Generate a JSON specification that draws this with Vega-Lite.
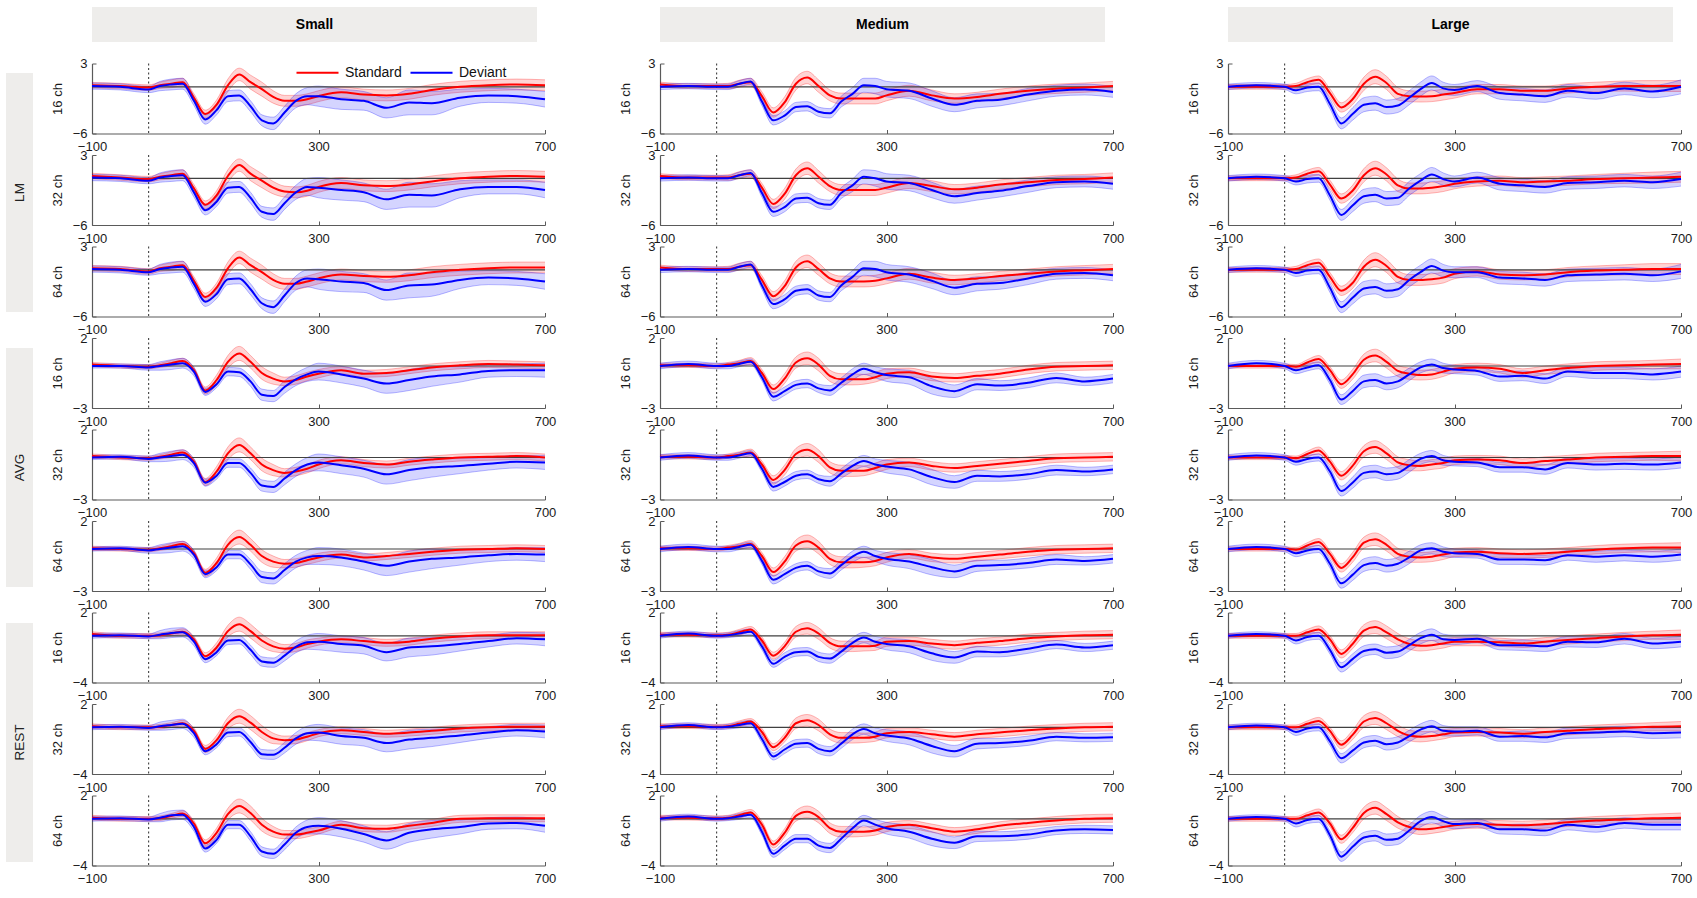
{
  "$schema": "https://vega.github.io/schema/vega-lite/v6.json",
  "padding": {"left": 6, "top": 7, "right": 4, "bottom": 4},
  "background": "white",
  "config": {
    "font": "Liberation Sans",
    "view": {"stroke": null},
    "axis": {"labelFontSize": 13, "titleFontSize": 13, "titleFontWeight": "normal", "labelColor": "#1a1a1a", "titleColor": "#1a1a1a", "domainColor": "#5a5a5a", "tickColor": "#5a5a5a", "domainWidth": 1.2, "grid": false, "tickSize": -4, "labelOverlap": false},
    "axisX": {"labelPadding": 11, "labelFlush": false},
    "axisY": {"labelPadding": 9, "titlePadding": 8, "minExtent": 20, "maxExtent": 20}
  },
  "datasets": {
    "erp": [
{"r":"LM16","s":"S","t":-100,"a":0.2,"e":0.35,"b":0.1,"f":0.4},
{"r":"LM16","s":"S","t":-50,"a":0.1,"e":0.35,"b":0,"f":0.4},
{"r":"LM16","s":"S","t":0,"a":-0.1,"e":0.35,"b":-0.35,"f":0.4},
{"r":"LM16","s":"S","t":20,"a":0.2,"e":0.4,"b":0.1,"f":0.6},
{"r":"LM16","s":"S","t":40,"a":0.4,"e":0.5,"b":0.3,"f":0.7},
{"r":"LM16","s":"S","t":60,"a":0.6,"e":0.5,"b":0.4,"f":0.7},
{"r":"LM16","s":"S","t":80,"a":-1.4,"e":0.5,"b":-1.8,"f":0.6},
{"r":"LM16","s":"S","t":100,"a":-3.5,"e":0.5,"b":-4.2,"f":0.6},
{"r":"LM16","s":"S","t":120,"a":-2.3,"e":0.6,"b":-3,"f":0.6},
{"r":"LM16","s":"S","t":140,"a":0.2,"e":0.8,"b":-1.2,"f":0.7},
{"r":"LM16","s":"S","t":160,"a":1.6,"e":0.8,"b":-1.1,"f":0.7},
{"r":"LM16","s":"S","t":180,"a":0.6,"e":0.9,"b":-2.5,"f":0.7},
{"r":"LM16","s":"S","t":200,"a":-0.3,"e":0.9,"b":-4.3,"f":0.7},
{"r":"LM16","s":"S","t":220,"a":-1.3,"e":0.8,"b":-4.7,"f":0.8},
{"r":"LM16","s":"S","t":240,"a":-1.8,"e":0.7,"b":-3.3,"f":0.8},
{"r":"LM16","s":"S","t":260,"a":-1.8,"e":0.7,"b":-1.8,"f":0.9},
{"r":"LM16","s":"S","t":280,"a":-1.6,"e":0.7,"b":-1.2,"f":1.1},
{"r":"LM16","s":"S","t":300,"a":-1.2,"e":0.7,"b":-1.2,"f":1.3},
{"r":"LM16","s":"S","t":340,"a":-0.7,"e":0.7,"b":-1.6,"f":1.3},
{"r":"LM16","s":"S","t":380,"a":-1,"e":0.7,"b":-1.8,"f":1.2},
{"r":"LM16","s":"S","t":420,"a":-1.1,"e":0.7,"b":-2.7,"f":1.3},
{"r":"LM16","s":"S","t":460,"a":-0.9,"e":0.7,"b":-2,"f":1.6},
{"r":"LM16","s":"S","t":500,"a":-0.4,"e":0.7,"b":-2.1,"f":1.5},
{"r":"LM16","s":"S","t":550,"a":0,"e":0.7,"b":-1.4,"f":1.1},
{"r":"LM16","s":"S","t":600,"a":0.2,"e":0.7,"b":-1.1,"f":0.9},
{"r":"LM16","s":"S","t":650,"a":0.3,"e":0.7,"b":-1.2,"f":0.9},
{"r":"LM16","s":"S","t":700,"a":0.2,"e":0.7,"b":-1.6,"f":1},
{"r":"LM32","s":"S","t":-100,"a":0.3,"e":0.35,"b":0.1,"f":0.4},
{"r":"LM32","s":"S","t":-50,"a":0.1,"e":0.35,"b":0,"f":0.4},
{"r":"LM32","s":"S","t":0,"a":-0.1,"e":0.35,"b":-0.3,"f":0.4},
{"r":"LM32","s":"S","t":20,"a":0.2,"e":0.4,"b":0.1,"f":0.6},
{"r":"LM32","s":"S","t":40,"a":0.4,"e":0.5,"b":0.3,"f":0.7},
{"r":"LM32","s":"S","t":60,"a":0.6,"e":0.5,"b":0.4,"f":0.7},
{"r":"LM32","s":"S","t":80,"a":-1.3,"e":0.5,"b":-1.8,"f":0.6},
{"r":"LM32","s":"S","t":100,"a":-3.4,"e":0.5,"b":-4.1,"f":0.6},
{"r":"LM32","s":"S","t":120,"a":-2.2,"e":0.6,"b":-3,"f":0.6},
{"r":"LM32","s":"S","t":140,"a":0.3,"e":0.8,"b":-1.2,"f":0.7},
{"r":"LM32","s":"S","t":160,"a":1.7,"e":0.8,"b":-1.1,"f":0.7},
{"r":"LM32","s":"S","t":180,"a":0.6,"e":0.9,"b":-2.5,"f":0.7},
{"r":"LM32","s":"S","t":200,"a":-0.3,"e":0.9,"b":-4.3,"f":0.7},
{"r":"LM32","s":"S","t":220,"a":-1.2,"e":0.8,"b":-4.6,"f":0.8},
{"r":"LM32","s":"S","t":240,"a":-1.7,"e":0.7,"b":-3.2,"f":0.8},
{"r":"LM32","s":"S","t":260,"a":-1.8,"e":0.7,"b":-1.8,"f":0.9},
{"r":"LM32","s":"S","t":280,"a":-1.6,"e":0.7,"b":-1.1,"f":1.1},
{"r":"LM32","s":"S","t":300,"a":-1.1,"e":0.7,"b":-1.2,"f":1.3},
{"r":"LM32","s":"S","t":340,"a":-0.6,"e":0.7,"b":-1.5,"f":1.3},
{"r":"LM32","s":"S","t":380,"a":-0.9,"e":0.7,"b":-1.8,"f":1.2},
{"r":"LM32","s":"S","t":420,"a":-1,"e":0.7,"b":-2.7,"f":1.3},
{"r":"LM32","s":"S","t":460,"a":-0.8,"e":0.7,"b":-2.1,"f":1.6},
{"r":"LM32","s":"S","t":500,"a":-0.4,"e":0.7,"b":-2.2,"f":1.5},
{"r":"LM32","s":"S","t":550,"a":0,"e":0.7,"b":-1.4,"f":1.1},
{"r":"LM32","s":"S","t":600,"a":0.2,"e":0.7,"b":-1.1,"f":0.9},
{"r":"LM32","s":"S","t":650,"a":0.3,"e":0.7,"b":-1.1,"f":0.9},
{"r":"LM32","s":"S","t":700,"a":0.2,"e":0.7,"b":-1.5,"f":1},
{"r":"LM64","s":"S","t":-100,"a":0.2,"e":0.35,"b":0.1,"f":0.4},
{"r":"LM64","s":"S","t":-50,"a":0.1,"e":0.35,"b":0,"f":0.4},
{"r":"LM64","s":"S","t":0,"a":-0.2,"e":0.35,"b":-0.3,"f":0.4},
{"r":"LM64","s":"S","t":20,"a":0.2,"e":0.4,"b":0.1,"f":0.6},
{"r":"LM64","s":"S","t":40,"a":0.4,"e":0.5,"b":0.3,"f":0.7},
{"r":"LM64","s":"S","t":60,"a":0.6,"e":0.5,"b":0.4,"f":0.7},
{"r":"LM64","s":"S","t":80,"a":-1.4,"e":0.5,"b":-1.8,"f":0.6},
{"r":"LM64","s":"S","t":100,"a":-3.5,"e":0.5,"b":-4.1,"f":0.6},
{"r":"LM64","s":"S","t":120,"a":-2.3,"e":0.6,"b":-3.1,"f":0.6},
{"r":"LM64","s":"S","t":140,"a":0.2,"e":0.8,"b":-1.2,"f":0.7},
{"r":"LM64","s":"S","t":160,"a":1.6,"e":0.8,"b":-1.1,"f":0.7},
{"r":"LM64","s":"S","t":180,"a":0.6,"e":0.9,"b":-2.5,"f":0.7},
{"r":"LM64","s":"S","t":200,"a":-0.3,"e":0.9,"b":-4.3,"f":0.7},
{"r":"LM64","s":"S","t":220,"a":-1.3,"e":0.8,"b":-4.8,"f":0.8},
{"r":"LM64","s":"S","t":240,"a":-1.8,"e":0.7,"b":-3.3,"f":0.8},
{"r":"LM64","s":"S","t":260,"a":-1.8,"e":0.7,"b":-1.7,"f":0.9},
{"r":"LM64","s":"S","t":280,"a":-1.5,"e":0.7,"b":-1.1,"f":1.1},
{"r":"LM64","s":"S","t":300,"a":-1.1,"e":0.7,"b":-1.2,"f":1.3},
{"r":"LM64","s":"S","t":340,"a":-0.6,"e":0.7,"b":-1.5,"f":1.3},
{"r":"LM64","s":"S","t":380,"a":-0.8,"e":0.7,"b":-1.7,"f":1.2},
{"r":"LM64","s":"S","t":420,"a":-0.9,"e":0.7,"b":-2.6,"f":1.3},
{"r":"LM64","s":"S","t":460,"a":-0.7,"e":0.7,"b":-2,"f":1.6},
{"r":"LM64","s":"S","t":500,"a":-0.3,"e":0.7,"b":-1.9,"f":1.5},
{"r":"LM64","s":"S","t":550,"a":0,"e":0.7,"b":-1.3,"f":1.1},
{"r":"LM64","s":"S","t":600,"a":0.2,"e":0.7,"b":-1,"f":0.9},
{"r":"LM64","s":"S","t":650,"a":0.3,"e":0.7,"b":-1.1,"f":0.9},
{"r":"LM64","s":"S","t":700,"a":0.3,"e":0.7,"b":-1.5,"f":1},
{"r":"LM16","s":"M","t":-100,"a":0.3,"e":0.3,"b":0,"f":0.35},
{"r":"LM16","s":"M","t":-50,"a":0.1,"e":0.3,"b":0.1,"f":0.35},
{"r":"LM16","s":"M","t":0,"a":0.1,"e":0.3,"b":0,"f":0.35},
{"r":"LM16","s":"M","t":20,"a":0.1,"e":0.35,"b":0,"f":0.35},
{"r":"LM16","s":"M","t":40,"a":0.4,"e":0.45,"b":0.4,"f":0.4},
{"r":"LM16","s":"M","t":60,"a":0.6,"e":0.5,"b":0.7,"f":0.4},
{"r":"LM16","s":"M","t":80,"a":-1.2,"e":0.55,"b":-1.9,"f":0.5},
{"r":"LM16","s":"M","t":100,"a":-3.3,"e":0.6,"b":-4.3,"f":0.6},
{"r":"LM16","s":"M","t":120,"a":-2,"e":0.7,"b":-3.7,"f":0.6},
{"r":"LM16","s":"M","t":140,"a":0.4,"e":0.8,"b":-2.6,"f":0.6},
{"r":"LM16","s":"M","t":160,"a":1.2,"e":0.8,"b":-2.5,"f":0.6},
{"r":"LM16","s":"M","t":180,"a":0.1,"e":0.8,"b":-3.2,"f":0.6},
{"r":"LM16","s":"M","t":200,"a":-1.1,"e":0.7,"b":-3.4,"f":0.6},
{"r":"LM16","s":"M","t":220,"a":-1.5,"e":0.7,"b":-1.9,"f":0.7},
{"r":"LM16","s":"M","t":240,"a":-1.5,"e":0.7,"b":-0.9,"f":0.8},
{"r":"LM16","s":"M","t":260,"a":-1.5,"e":0.7,"b":0.2,"f":0.9},
{"r":"LM16","s":"M","t":280,"a":-1.5,"e":0.7,"b":0.1,"f":1},
{"r":"LM16","s":"M","t":300,"a":-1.1,"e":0.7,"b":-0.3,"f":1},
{"r":"LM16","s":"M","t":340,"a":-0.5,"e":0.7,"b":-0.5,"f":1},
{"r":"LM16","s":"M","t":380,"a":-1.1,"e":0.7,"b":-1.5,"f":1},
{"r":"LM16","s":"M","t":420,"a":-1.5,"e":0.6,"b":-2.3,"f":0.9},
{"r":"LM16","s":"M","t":460,"a":-1.3,"e":0.6,"b":-1.8,"f":0.9},
{"r":"LM16","s":"M","t":500,"a":-0.9,"e":0.6,"b":-1.65,"f":0.8},
{"r":"LM16","s":"M","t":550,"a":-0.5,"e":0.6,"b":-1,"f":0.8},
{"r":"LM16","s":"M","t":600,"a":-0.25,"e":0.6,"b":-0.5,"f":0.7},
{"r":"LM16","s":"M","t":650,"a":-0.1,"e":0.6,"b":-0.35,"f":0.7},
{"r":"LM16","s":"M","t":700,"a":0.1,"e":0.6,"b":-0.65,"f":0.7},
{"r":"LM32","s":"M","t":-100,"a":0.3,"e":0.3,"b":0,"f":0.35},
{"r":"LM32","s":"M","t":-50,"a":0.1,"e":0.3,"b":0.1,"f":0.35},
{"r":"LM32","s":"M","t":0,"a":0.1,"e":0.3,"b":0,"f":0.35},
{"r":"LM32","s":"M","t":20,"a":0.1,"e":0.35,"b":0,"f":0.35},
{"r":"LM32","s":"M","t":40,"a":0.4,"e":0.45,"b":0.4,"f":0.4},
{"r":"LM32","s":"M","t":60,"a":0.6,"e":0.5,"b":0.7,"f":0.4},
{"r":"LM32","s":"M","t":80,"a":-1.2,"e":0.55,"b":-1.9,"f":0.5},
{"r":"LM32","s":"M","t":100,"a":-3.3,"e":0.6,"b":-4.3,"f":0.6},
{"r":"LM32","s":"M","t":120,"a":-2,"e":0.7,"b":-3.7,"f":0.6},
{"r":"LM32","s":"M","t":140,"a":0.4,"e":0.8,"b":-2.6,"f":0.6},
{"r":"LM32","s":"M","t":160,"a":1.3,"e":0.8,"b":-2.5,"f":0.6},
{"r":"LM32","s":"M","t":180,"a":0.2,"e":0.8,"b":-3.2,"f":0.6},
{"r":"LM32","s":"M","t":200,"a":-1,"e":0.7,"b":-3.4,"f":0.6},
{"r":"LM32","s":"M","t":220,"a":-1.5,"e":0.7,"b":-1.9,"f":0.7},
{"r":"LM32","s":"M","t":240,"a":-1.5,"e":0.7,"b":-0.9,"f":0.8},
{"r":"LM32","s":"M","t":260,"a":-1.5,"e":0.7,"b":0.2,"f":0.9},
{"r":"LM32","s":"M","t":280,"a":-1.5,"e":0.7,"b":0,"f":1},
{"r":"LM32","s":"M","t":300,"a":-1.2,"e":0.7,"b":-0.4,"f":1},
{"r":"LM32","s":"M","t":340,"a":-0.6,"e":0.7,"b":-0.6,"f":1},
{"r":"LM32","s":"M","t":380,"a":-1,"e":0.7,"b":-1.5,"f":1},
{"r":"LM32","s":"M","t":420,"a":-1.4,"e":0.6,"b":-2.3,"f":0.9},
{"r":"LM32","s":"M","t":460,"a":-1.2,"e":0.6,"b":-1.9,"f":0.9},
{"r":"LM32","s":"M","t":500,"a":-0.8,"e":0.6,"b":-1.6,"f":0.8},
{"r":"LM32","s":"M","t":550,"a":-0.5,"e":0.6,"b":-1,"f":0.8},
{"r":"LM32","s":"M","t":600,"a":-0.2,"e":0.6,"b":-0.5,"f":0.7},
{"r":"LM32","s":"M","t":650,"a":-0.1,"e":0.6,"b":-0.4,"f":0.7},
{"r":"LM32","s":"M","t":700,"a":0.1,"e":0.6,"b":-0.7,"f":0.7},
{"r":"LM64","s":"M","t":-100,"a":0.3,"e":0.3,"b":0,"f":0.35},
{"r":"LM64","s":"M","t":-50,"a":0.1,"e":0.3,"b":0.1,"f":0.35},
{"r":"LM64","s":"M","t":0,"a":0.1,"e":0.3,"b":0,"f":0.35},
{"r":"LM64","s":"M","t":20,"a":0.1,"e":0.35,"b":0,"f":0.35},
{"r":"LM64","s":"M","t":40,"a":0.4,"e":0.45,"b":0.4,"f":0.4},
{"r":"LM64","s":"M","t":60,"a":0.6,"e":0.5,"b":0.7,"f":0.4},
{"r":"LM64","s":"M","t":80,"a":-1.3,"e":0.55,"b":-2,"f":0.5},
{"r":"LM64","s":"M","t":100,"a":-3.4,"e":0.6,"b":-4.4,"f":0.6},
{"r":"LM64","s":"M","t":120,"a":-2.1,"e":0.7,"b":-3.8,"f":0.6},
{"r":"LM64","s":"M","t":140,"a":0.3,"e":0.8,"b":-2.7,"f":0.6},
{"r":"LM64","s":"M","t":160,"a":1.1,"e":0.8,"b":-2.5,"f":0.6},
{"r":"LM64","s":"M","t":180,"a":0.1,"e":0.8,"b":-3.3,"f":0.6},
{"r":"LM64","s":"M","t":200,"a":-1.1,"e":0.7,"b":-3.5,"f":0.6},
{"r":"LM64","s":"M","t":220,"a":-1.5,"e":0.7,"b":-2,"f":0.7},
{"r":"LM64","s":"M","t":240,"a":-1.5,"e":0.7,"b":-0.9,"f":0.8},
{"r":"LM64","s":"M","t":260,"a":-1.5,"e":0.7,"b":0.2,"f":0.9},
{"r":"LM64","s":"M","t":280,"a":-1.4,"e":0.7,"b":0.1,"f":1},
{"r":"LM64","s":"M","t":300,"a":-1.1,"e":0.7,"b":-0.3,"f":1},
{"r":"LM64","s":"M","t":340,"a":-0.5,"e":0.7,"b":-0.6,"f":1},
{"r":"LM64","s":"M","t":380,"a":-1,"e":0.7,"b":-1.4,"f":1},
{"r":"LM64","s":"M","t":420,"a":-1.3,"e":0.6,"b":-2.3,"f":0.9},
{"r":"LM64","s":"M","t":460,"a":-1.1,"e":0.6,"b":-1.8,"f":0.9},
{"r":"LM64","s":"M","t":500,"a":-0.8,"e":0.6,"b":-1.7,"f":0.8},
{"r":"LM64","s":"M","t":550,"a":-0.5,"e":0.6,"b":-1.1,"f":0.8},
{"r":"LM64","s":"M","t":600,"a":-0.2,"e":0.6,"b":-0.5,"f":0.7},
{"r":"LM64","s":"M","t":650,"a":-0.05,"e":0.6,"b":-0.4,"f":0.7},
{"r":"LM64","s":"M","t":700,"a":0.1,"e":0.6,"b":-0.7,"f":0.7},
{"r":"LM16","s":"L","t":-100,"a":0,"e":0.3,"b":0,"f":0.35},
{"r":"LM16","s":"L","t":-50,"a":0,"e":0.3,"b":0.2,"f":0.35},
{"r":"LM16","s":"L","t":0,"a":0,"e":0.3,"b":0,"f":0.35},
{"r":"LM16","s":"L","t":20,"a":0.1,"e":0.35,"b":-0.45,"f":0.45},
{"r":"LM16","s":"L","t":40,"a":0.6,"e":0.45,"b":-0.1,"f":0.5},
{"r":"LM16","s":"L","t":60,"a":0.9,"e":0.5,"b":0,"f":0.5},
{"r":"LM16","s":"L","t":80,"a":-0.8,"e":0.55,"b":-2.2,"f":0.6},
{"r":"LM16","s":"L","t":100,"a":-2.65,"e":0.6,"b":-4.7,"f":0.7},
{"r":"LM16","s":"L","t":120,"a":-1.6,"e":0.7,"b":-3.5,"f":0.8},
{"r":"LM16","s":"L","t":140,"a":0.4,"e":0.85,"b":-2.3,"f":0.9},
{"r":"LM16","s":"L","t":160,"a":1.3,"e":0.9,"b":-2.1,"f":0.9},
{"r":"LM16","s":"L","t":180,"a":0.5,"e":0.85,"b":-2.6,"f":0.9},
{"r":"LM16","s":"L","t":200,"a":-0.9,"e":0.8,"b":-2.4,"f":0.9},
{"r":"LM16","s":"L","t":220,"a":-1.2,"e":0.7,"b":-1.4,"f":0.9},
{"r":"LM16","s":"L","t":240,"a":-1.25,"e":0.7,"b":-0.3,"f":0.9},
{"r":"LM16","s":"L","t":260,"a":-1.2,"e":0.7,"b":0.5,"f":0.9},
{"r":"LM16","s":"L","t":280,"a":-1,"e":0.7,"b":-0.2,"f":0.8},
{"r":"LM16","s":"L","t":300,"a":-0.8,"e":0.65,"b":-0.4,"f":0.7},
{"r":"LM16","s":"L","t":340,"a":-0.3,"e":0.6,"b":0.1,"f":0.7},
{"r":"LM16","s":"L","t":380,"a":-0.3,"e":0.6,"b":-0.8,"f":0.8},
{"r":"LM16","s":"L","t":420,"a":-0.5,"e":0.6,"b":-1,"f":0.8},
{"r":"LM16","s":"L","t":460,"a":-0.5,"e":0.6,"b":-1.2,"f":0.8},
{"r":"LM16","s":"L","t":500,"a":-0.2,"e":0.6,"b":-0.5,"f":0.8},
{"r":"LM16","s":"L","t":550,"a":0,"e":0.6,"b":-0.8,"f":0.8},
{"r":"LM16","s":"L","t":600,"a":0.1,"e":0.65,"b":-0.2,"f":0.8},
{"r":"LM16","s":"L","t":650,"a":0.1,"e":0.7,"b":-0.6,"f":0.8},
{"r":"LM16","s":"L","t":700,"a":0.1,"e":0.7,"b":0,"f":0.9},
{"r":"LM32","s":"L","t":-100,"a":0,"e":0.3,"b":0,"f":0.35},
{"r":"LM32","s":"L","t":-50,"a":0,"e":0.3,"b":0.2,"f":0.35},
{"r":"LM32","s":"L","t":0,"a":0,"e":0.3,"b":0,"f":0.35},
{"r":"LM32","s":"L","t":20,"a":0.1,"e":0.35,"b":-0.4,"f":0.45},
{"r":"LM32","s":"L","t":40,"a":0.6,"e":0.45,"b":-0.1,"f":0.5},
{"r":"LM32","s":"L","t":60,"a":0.9,"e":0.5,"b":0,"f":0.5},
{"r":"LM32","s":"L","t":80,"a":-0.8,"e":0.55,"b":-2.2,"f":0.6},
{"r":"LM32","s":"L","t":100,"a":-2.6,"e":0.6,"b":-4.7,"f":0.7},
{"r":"LM32","s":"L","t":120,"a":-1.6,"e":0.7,"b":-3.5,"f":0.8},
{"r":"LM32","s":"L","t":140,"a":0.4,"e":0.85,"b":-2.3,"f":0.9},
{"r":"LM32","s":"L","t":160,"a":1.3,"e":0.9,"b":-2.1,"f":0.9},
{"r":"LM32","s":"L","t":180,"a":0.5,"e":0.85,"b":-2.6,"f":0.9},
{"r":"LM32","s":"L","t":200,"a":-0.9,"e":0.8,"b":-2.5,"f":0.9},
{"r":"LM32","s":"L","t":220,"a":-1.3,"e":0.7,"b":-1.3,"f":0.9},
{"r":"LM32","s":"L","t":240,"a":-1.3,"e":0.7,"b":-0.3,"f":0.9},
{"r":"LM32","s":"L","t":260,"a":-1.2,"e":0.7,"b":0.5,"f":0.9},
{"r":"LM32","s":"L","t":280,"a":-1,"e":0.7,"b":-0.1,"f":0.8},
{"r":"LM32","s":"L","t":300,"a":-0.7,"e":0.65,"b":-0.4,"f":0.7},
{"r":"LM32","s":"L","t":340,"a":-0.4,"e":0.6,"b":0.1,"f":0.7},
{"r":"LM32","s":"L","t":380,"a":-0.3,"e":0.6,"b":-0.7,"f":0.8},
{"r":"LM32","s":"L","t":420,"a":-0.5,"e":0.6,"b":-0.9,"f":0.8},
{"r":"LM32","s":"L","t":460,"a":-0.4,"e":0.6,"b":-1.1,"f":0.8},
{"r":"LM32","s":"L","t":500,"a":-0.3,"e":0.6,"b":-0.6,"f":0.8},
{"r":"LM32","s":"L","t":550,"a":-0.1,"e":0.6,"b":-0.5,"f":0.8},
{"r":"LM32","s":"L","t":600,"a":0,"e":0.65,"b":-0.3,"f":0.8},
{"r":"LM32","s":"L","t":650,"a":0.1,"e":0.7,"b":-0.5,"f":0.8},
{"r":"LM32","s":"L","t":700,"a":0.2,"e":0.7,"b":-0.1,"f":0.9},
{"r":"LM64","s":"L","t":-100,"a":0,"e":0.3,"b":0,"f":0.35},
{"r":"LM64","s":"L","t":-50,"a":0,"e":0.3,"b":0.2,"f":0.35},
{"r":"LM64","s":"L","t":0,"a":0,"e":0.3,"b":0,"f":0.35},
{"r":"LM64","s":"L","t":20,"a":0.1,"e":0.35,"b":-0.4,"f":0.45},
{"r":"LM64","s":"L","t":40,"a":0.6,"e":0.45,"b":-0.1,"f":0.5},
{"r":"LM64","s":"L","t":60,"a":0.9,"e":0.5,"b":0,"f":0.5},
{"r":"LM64","s":"L","t":80,"a":-0.9,"e":0.55,"b":-2.3,"f":0.6},
{"r":"LM64","s":"L","t":100,"a":-2.7,"e":0.6,"b":-4.8,"f":0.7},
{"r":"LM64","s":"L","t":120,"a":-1.7,"e":0.7,"b":-3.6,"f":0.8},
{"r":"LM64","s":"L","t":140,"a":0.4,"e":0.85,"b":-2.4,"f":0.9},
{"r":"LM64","s":"L","t":160,"a":1.3,"e":0.9,"b":-2.2,"f":0.9},
{"r":"LM64","s":"L","t":180,"a":0.5,"e":0.85,"b":-2.7,"f":0.9},
{"r":"LM64","s":"L","t":200,"a":-0.9,"e":0.8,"b":-2.5,"f":0.9},
{"r":"LM64","s":"L","t":220,"a":-1.3,"e":0.7,"b":-1.3,"f":0.9},
{"r":"LM64","s":"L","t":240,"a":-1.3,"e":0.7,"b":-0.3,"f":0.9},
{"r":"LM64","s":"L","t":260,"a":-1.2,"e":0.7,"b":0.5,"f":0.9},
{"r":"LM64","s":"L","t":280,"a":-1,"e":0.7,"b":-0.1,"f":0.8},
{"r":"LM64","s":"L","t":300,"a":-0.5,"e":0.65,"b":-0.3,"f":0.7},
{"r":"LM64","s":"L","t":340,"a":-0.2,"e":0.6,"b":-0.3,"f":0.7},
{"r":"LM64","s":"L","t":380,"a":-0.6,"e":0.6,"b":-1,"f":0.8},
{"r":"LM64","s":"L","t":420,"a":-0.7,"e":0.6,"b":-1.1,"f":0.8},
{"r":"LM64","s":"L","t":460,"a":-0.6,"e":0.6,"b":-1.3,"f":0.8},
{"r":"LM64","s":"L","t":500,"a":-0.3,"e":0.6,"b":-0.7,"f":0.8},
{"r":"LM64","s":"L","t":550,"a":-0.1,"e":0.6,"b":-0.6,"f":0.8},
{"r":"LM64","s":"L","t":600,"a":0,"e":0.65,"b":-0.5,"f":0.8},
{"r":"LM64","s":"L","t":650,"a":0.1,"e":0.7,"b":-0.7,"f":0.8},
{"r":"LM64","s":"L","t":700,"a":0.1,"e":0.7,"b":-0.2,"f":0.9},
{"r":"AVG16","s":"S","t":-100,"a":0.1,"e":0.15,"b":0,"f":0.15},
{"r":"AVG16","s":"S","t":-50,"a":0,"e":0.15,"b":0,"f":0.15},
{"r":"AVG16","s":"S","t":0,"a":-0.05,"e":0.15,"b":-0.1,"f":0.2},
{"r":"AVG16","s":"S","t":20,"a":0.05,"e":0.15,"b":0,"f":0.3},
{"r":"AVG16","s":"S","t":40,"a":0.2,"e":0.2,"b":0.1,"f":0.35},
{"r":"AVG16","s":"S","t":60,"a":0.35,"e":0.2,"b":0.2,"f":0.35},
{"r":"AVG16","s":"S","t":80,"a":-0.3,"e":0.2,"b":-0.4,"f":0.3},
{"r":"AVG16","s":"S","t":100,"a":-1.75,"e":0.25,"b":-1.85,"f":0.25},
{"r":"AVG16","s":"S","t":120,"a":-1,"e":0.35,"b":-1.3,"f":0.25},
{"r":"AVG16","s":"S","t":140,"a":0.3,"e":0.45,"b":-0.4,"f":0.3},
{"r":"AVG16","s":"S","t":160,"a":0.9,"e":0.5,"b":-0.45,"f":0.3},
{"r":"AVG16","s":"S","t":180,"a":0.3,"e":0.45,"b":-1.1,"f":0.35},
{"r":"AVG16","s":"S","t":200,"a":-0.5,"e":0.45,"b":-2.05,"f":0.4},
{"r":"AVG16","s":"S","t":220,"a":-0.9,"e":0.4,"b":-2.15,"f":0.4},
{"r":"AVG16","s":"S","t":240,"a":-1.1,"e":0.3,"b":-1.5,"f":0.45},
{"r":"AVG16","s":"S","t":260,"a":-1,"e":0.3,"b":-0.95,"f":0.45},
{"r":"AVG16","s":"S","t":280,"a":-0.75,"e":0.3,"b":-0.6,"f":0.5},
{"r":"AVG16","s":"S","t":300,"a":-0.55,"e":0.3,"b":-0.4,"f":0.6},
{"r":"AVG16","s":"S","t":340,"a":-0.3,"e":0.25,"b":-0.6,"f":0.6},
{"r":"AVG16","s":"S","t":380,"a":-0.55,"e":0.25,"b":-0.9,"f":0.6},
{"r":"AVG16","s":"S","t":420,"a":-0.5,"e":0.25,"b":-1.25,"f":0.7},
{"r":"AVG16","s":"S","t":460,"a":-0.3,"e":0.25,"b":-1,"f":0.75},
{"r":"AVG16","s":"S","t":500,"a":-0.1,"e":0.25,"b":-0.75,"f":0.7},
{"r":"AVG16","s":"S","t":550,"a":0.05,"e":0.25,"b":-0.6,"f":0.55},
{"r":"AVG16","s":"S","t":600,"a":0.15,"e":0.25,"b":-0.35,"f":0.45},
{"r":"AVG16","s":"S","t":650,"a":0.1,"e":0.25,"b":-0.3,"f":0.45},
{"r":"AVG16","s":"S","t":700,"a":0.05,"e":0.25,"b":-0.3,"f":0.5},
{"r":"AVG32","s":"S","t":-100,"a":0.1,"e":0.15,"b":0,"f":0.15},
{"r":"AVG32","s":"S","t":-50,"a":0,"e":0.15,"b":0.05,"f":0.15},
{"r":"AVG32","s":"S","t":0,"a":-0.05,"e":0.15,"b":-0.1,"f":0.2},
{"r":"AVG32","s":"S","t":20,"a":0.05,"e":0.15,"b":0,"f":0.3},
{"r":"AVG32","s":"S","t":40,"a":0.2,"e":0.2,"b":0.1,"f":0.35},
{"r":"AVG32","s":"S","t":60,"a":0.35,"e":0.2,"b":0.2,"f":0.35},
{"r":"AVG32","s":"S","t":80,"a":-0.3,"e":0.2,"b":-0.4,"f":0.3},
{"r":"AVG32","s":"S","t":100,"a":-1.75,"e":0.25,"b":-1.8,"f":0.25},
{"r":"AVG32","s":"S","t":120,"a":-1,"e":0.35,"b":-1.3,"f":0.25},
{"r":"AVG32","s":"S","t":140,"a":0.3,"e":0.45,"b":-0.4,"f":0.3},
{"r":"AVG32","s":"S","t":160,"a":0.9,"e":0.5,"b":-0.4,"f":0.3},
{"r":"AVG32","s":"S","t":180,"a":0.3,"e":0.45,"b":-1.1,"f":0.35},
{"r":"AVG32","s":"S","t":200,"a":-0.5,"e":0.45,"b":-2,"f":0.4},
{"r":"AVG32","s":"S","t":220,"a":-0.9,"e":0.4,"b":-2.1,"f":0.4},
{"r":"AVG32","s":"S","t":240,"a":-1.1,"e":0.3,"b":-1.5,"f":0.45},
{"r":"AVG32","s":"S","t":260,"a":-1,"e":0.3,"b":-0.9,"f":0.45},
{"r":"AVG32","s":"S","t":280,"a":-0.8,"e":0.3,"b":-0.5,"f":0.5},
{"r":"AVG32","s":"S","t":300,"a":-0.5,"e":0.3,"b":-0.35,"f":0.6},
{"r":"AVG32","s":"S","t":340,"a":-0.2,"e":0.25,"b":-0.55,"f":0.6},
{"r":"AVG32","s":"S","t":380,"a":-0.4,"e":0.25,"b":-0.8,"f":0.6},
{"r":"AVG32","s":"S","t":420,"a":-0.5,"e":0.25,"b":-1.2,"f":0.7},
{"r":"AVG32","s":"S","t":460,"a":-0.3,"e":0.25,"b":-0.9,"f":0.75},
{"r":"AVG32","s":"S","t":500,"a":-0.15,"e":0.25,"b":-0.7,"f":0.7},
{"r":"AVG32","s":"S","t":550,"a":0,"e":0.25,"b":-0.6,"f":0.55},
{"r":"AVG32","s":"S","t":600,"a":0.05,"e":0.25,"b":-0.45,"f":0.45},
{"r":"AVG32","s":"S","t":650,"a":0.1,"e":0.25,"b":-0.3,"f":0.45},
{"r":"AVG32","s":"S","t":700,"a":0,"e":0.25,"b":-0.35,"f":0.5},
{"r":"AVG64","s":"S","t":-100,"a":0.05,"e":0.15,"b":0,"f":0.15},
{"r":"AVG64","s":"S","t":-50,"a":0,"e":0.15,"b":0.05,"f":0.15},
{"r":"AVG64","s":"S","t":0,"a":-0.05,"e":0.15,"b":-0.1,"f":0.2},
{"r":"AVG64","s":"S","t":20,"a":0.05,"e":0.15,"b":0,"f":0.3},
{"r":"AVG64","s":"S","t":40,"a":0.2,"e":0.2,"b":0.1,"f":0.35},
{"r":"AVG64","s":"S","t":60,"a":0.35,"e":0.2,"b":0.2,"f":0.35},
{"r":"AVG64","s":"S","t":80,"a":-0.3,"e":0.2,"b":-0.4,"f":0.3},
{"r":"AVG64","s":"S","t":100,"a":-1.7,"e":0.25,"b":-1.8,"f":0.25},
{"r":"AVG64","s":"S","t":120,"a":-1,"e":0.35,"b":-1.3,"f":0.25},
{"r":"AVG64","s":"S","t":140,"a":0.3,"e":0.45,"b":-0.4,"f":0.3},
{"r":"AVG64","s":"S","t":160,"a":0.85,"e":0.5,"b":-0.4,"f":0.3},
{"r":"AVG64","s":"S","t":180,"a":0.3,"e":0.45,"b":-1.1,"f":0.35},
{"r":"AVG64","s":"S","t":200,"a":-0.5,"e":0.45,"b":-2,"f":0.4},
{"r":"AVG64","s":"S","t":220,"a":-0.9,"e":0.4,"b":-2.1,"f":0.4},
{"r":"AVG64","s":"S","t":240,"a":-1.05,"e":0.3,"b":-1.5,"f":0.45},
{"r":"AVG64","s":"S","t":260,"a":-1,"e":0.3,"b":-0.9,"f":0.45},
{"r":"AVG64","s":"S","t":280,"a":-0.8,"e":0.3,"b":-0.6,"f":0.5},
{"r":"AVG64","s":"S","t":300,"a":-0.6,"e":0.3,"b":-0.5,"f":0.6},
{"r":"AVG64","s":"S","t":340,"a":-0.4,"e":0.25,"b":-0.6,"f":0.6},
{"r":"AVG64","s":"S","t":380,"a":-0.6,"e":0.25,"b":-0.9,"f":0.6},
{"r":"AVG64","s":"S","t":420,"a":-0.5,"e":0.25,"b":-1.2,"f":0.7},
{"r":"AVG64","s":"S","t":460,"a":-0.35,"e":0.25,"b":-0.9,"f":0.75},
{"r":"AVG64","s":"S","t":500,"a":-0.2,"e":0.25,"b":-0.7,"f":0.7},
{"r":"AVG64","s":"S","t":550,"a":-0.05,"e":0.25,"b":-0.6,"f":0.55},
{"r":"AVG64","s":"S","t":600,"a":0,"e":0.25,"b":-0.45,"f":0.45},
{"r":"AVG64","s":"S","t":650,"a":0.05,"e":0.25,"b":-0.35,"f":0.45},
{"r":"AVG64","s":"S","t":700,"a":0,"e":0.25,"b":-0.4,"f":0.5},
{"r":"AVG16","s":"M","t":-100,"a":0.05,"e":0.15,"b":0,"f":0.2},
{"r":"AVG16","s":"M","t":-50,"a":0.05,"e":0.15,"b":0.15,"f":0.2},
{"r":"AVG16","s":"M","t":0,"a":0,"e":0.15,"b":0,"f":0.2},
{"r":"AVG16","s":"M","t":20,"a":0.1,"e":0.15,"b":0,"f":0.2},
{"r":"AVG16","s":"M","t":40,"a":0.2,"e":0.2,"b":0.15,"f":0.2},
{"r":"AVG16","s":"M","t":60,"a":0.35,"e":0.25,"b":0.3,"f":0.2},
{"r":"AVG16","s":"M","t":80,"a":-0.5,"e":0.25,"b":-0.8,"f":0.25},
{"r":"AVG16","s":"M","t":100,"a":-1.65,"e":0.3,"b":-2.2,"f":0.3},
{"r":"AVG16","s":"M","t":120,"a":-0.9,"e":0.35,"b":-1.8,"f":0.3},
{"r":"AVG16","s":"M","t":140,"a":0.25,"e":0.4,"b":-1.35,"f":0.3},
{"r":"AVG16","s":"M","t":160,"a":0.55,"e":0.45,"b":-1.25,"f":0.3},
{"r":"AVG16","s":"M","t":180,"a":0.1,"e":0.45,"b":-1.6,"f":0.3},
{"r":"AVG16","s":"M","t":200,"a":-0.7,"e":0.4,"b":-1.75,"f":0.35},
{"r":"AVG16","s":"M","t":220,"a":-0.95,"e":0.4,"b":-1.2,"f":0.35},
{"r":"AVG16","s":"M","t":240,"a":-0.95,"e":0.4,"b":-0.6,"f":0.4},
{"r":"AVG16","s":"M","t":260,"a":-0.95,"e":0.35,"b":-0.2,"f":0.4},
{"r":"AVG16","s":"M","t":280,"a":-0.8,"e":0.35,"b":-0.45,"f":0.4},
{"r":"AVG16","s":"M","t":300,"a":-0.55,"e":0.35,"b":-0.65,"f":0.45},
{"r":"AVG16","s":"M","t":340,"a":-0.45,"e":0.3,"b":-0.8,"f":0.5},
{"r":"AVG16","s":"M","t":380,"a":-0.75,"e":0.3,"b":-1.45,"f":0.55},
{"r":"AVG16","s":"M","t":420,"a":-0.85,"e":0.3,"b":-1.8,"f":0.45},
{"r":"AVG16","s":"M","t":460,"a":-0.7,"e":0.3,"b":-1.3,"f":0.4},
{"r":"AVG16","s":"M","t":500,"a":-0.55,"e":0.3,"b":-1.4,"f":0.35},
{"r":"AVG16","s":"M","t":550,"a":-0.25,"e":0.3,"b":-1.2,"f":0.35},
{"r":"AVG16","s":"M","t":600,"a":-0.05,"e":0.3,"b":-0.85,"f":0.35},
{"r":"AVG16","s":"M","t":650,"a":0,"e":0.3,"b":-1.1,"f":0.3},
{"r":"AVG16","s":"M","t":700,"a":0.05,"e":0.3,"b":-0.9,"f":0.3},
{"r":"AVG32","s":"M","t":-100,"a":0.05,"e":0.15,"b":0,"f":0.2},
{"r":"AVG32","s":"M","t":-50,"a":0.05,"e":0.15,"b":0.15,"f":0.2},
{"r":"AVG32","s":"M","t":0,"a":0,"e":0.15,"b":0,"f":0.2},
{"r":"AVG32","s":"M","t":20,"a":0.1,"e":0.15,"b":0,"f":0.2},
{"r":"AVG32","s":"M","t":40,"a":0.2,"e":0.2,"b":0.15,"f":0.2},
{"r":"AVG32","s":"M","t":60,"a":0.35,"e":0.25,"b":0.3,"f":0.2},
{"r":"AVG32","s":"M","t":80,"a":-0.5,"e":0.25,"b":-0.8,"f":0.25},
{"r":"AVG32","s":"M","t":100,"a":-1.6,"e":0.3,"b":-2.1,"f":0.3},
{"r":"AVG32","s":"M","t":120,"a":-0.9,"e":0.35,"b":-1.75,"f":0.3},
{"r":"AVG32","s":"M","t":140,"a":0.25,"e":0.4,"b":-1.3,"f":0.3},
{"r":"AVG32","s":"M","t":160,"a":0.55,"e":0.45,"b":-1.2,"f":0.3},
{"r":"AVG32","s":"M","t":180,"a":0.1,"e":0.45,"b":-1.55,"f":0.3},
{"r":"AVG32","s":"M","t":200,"a":-0.7,"e":0.4,"b":-1.7,"f":0.35},
{"r":"AVG32","s":"M","t":220,"a":-0.95,"e":0.4,"b":-1.15,"f":0.35},
{"r":"AVG32","s":"M","t":240,"a":-0.95,"e":0.4,"b":-0.6,"f":0.4},
{"r":"AVG32","s":"M","t":260,"a":-0.95,"e":0.35,"b":-0.25,"f":0.4},
{"r":"AVG32","s":"M","t":280,"a":-0.75,"e":0.35,"b":-0.5,"f":0.4},
{"r":"AVG32","s":"M","t":300,"a":-0.5,"e":0.35,"b":-0.65,"f":0.45},
{"r":"AVG32","s":"M","t":340,"a":-0.35,"e":0.3,"b":-0.85,"f":0.5},
{"r":"AVG32","s":"M","t":380,"a":-0.6,"e":0.3,"b":-1.4,"f":0.55},
{"r":"AVG32","s":"M","t":420,"a":-0.75,"e":0.3,"b":-1.75,"f":0.45},
{"r":"AVG32","s":"M","t":460,"a":-0.6,"e":0.3,"b":-1.3,"f":0.4},
{"r":"AVG32","s":"M","t":500,"a":-0.45,"e":0.3,"b":-1.35,"f":0.35},
{"r":"AVG32","s":"M","t":550,"a":-0.25,"e":0.3,"b":-1.2,"f":0.35},
{"r":"AVG32","s":"M","t":600,"a":-0.05,"e":0.3,"b":-0.9,"f":0.35},
{"r":"AVG32","s":"M","t":650,"a":0,"e":0.3,"b":-1,"f":0.3},
{"r":"AVG32","s":"M","t":700,"a":0.05,"e":0.3,"b":-0.85,"f":0.3},
{"r":"AVG64","s":"M","t":-100,"a":0.05,"e":0.15,"b":0,"f":0.2},
{"r":"AVG64","s":"M","t":-50,"a":0.05,"e":0.15,"b":0.15,"f":0.2},
{"r":"AVG64","s":"M","t":0,"a":0,"e":0.15,"b":0,"f":0.2},
{"r":"AVG64","s":"M","t":20,"a":0.1,"e":0.15,"b":0,"f":0.2},
{"r":"AVG64","s":"M","t":40,"a":0.2,"e":0.2,"b":0.15,"f":0.2},
{"r":"AVG64","s":"M","t":60,"a":0.35,"e":0.25,"b":0.3,"f":0.2},
{"r":"AVG64","s":"M","t":80,"a":-0.5,"e":0.25,"b":-0.85,"f":0.25},
{"r":"AVG64","s":"M","t":100,"a":-1.65,"e":0.3,"b":-2.2,"f":0.3},
{"r":"AVG64","s":"M","t":120,"a":-0.9,"e":0.35,"b":-1.8,"f":0.3},
{"r":"AVG64","s":"M","t":140,"a":0.25,"e":0.4,"b":-1.35,"f":0.3},
{"r":"AVG64","s":"M","t":160,"a":0.55,"e":0.45,"b":-1.2,"f":0.3},
{"r":"AVG64","s":"M","t":180,"a":0.1,"e":0.45,"b":-1.6,"f":0.3},
{"r":"AVG64","s":"M","t":200,"a":-0.7,"e":0.4,"b":-1.75,"f":0.35},
{"r":"AVG64","s":"M","t":220,"a":-0.95,"e":0.4,"b":-1.15,"f":0.35},
{"r":"AVG64","s":"M","t":240,"a":-0.95,"e":0.4,"b":-0.55,"f":0.4},
{"r":"AVG64","s":"M","t":260,"a":-0.95,"e":0.35,"b":-0.2,"f":0.4},
{"r":"AVG64","s":"M","t":280,"a":-0.85,"e":0.35,"b":-0.5,"f":0.4},
{"r":"AVG64","s":"M","t":300,"a":-0.6,"e":0.35,"b":-0.7,"f":0.45},
{"r":"AVG64","s":"M","t":340,"a":-0.35,"e":0.3,"b":-0.9,"f":0.5},
{"r":"AVG64","s":"M","t":380,"a":-0.6,"e":0.3,"b":-1.3,"f":0.55},
{"r":"AVG64","s":"M","t":420,"a":-0.7,"e":0.3,"b":-1.6,"f":0.45},
{"r":"AVG64","s":"M","t":460,"a":-0.55,"e":0.3,"b":-1.2,"f":0.4},
{"r":"AVG64","s":"M","t":500,"a":-0.4,"e":0.3,"b":-1.15,"f":0.35},
{"r":"AVG64","s":"M","t":550,"a":-0.2,"e":0.3,"b":-1,"f":0.35},
{"r":"AVG64","s":"M","t":600,"a":-0.05,"e":0.3,"b":-0.75,"f":0.35},
{"r":"AVG64","s":"M","t":650,"a":0,"e":0.3,"b":-0.85,"f":0.3},
{"r":"AVG64","s":"M","t":700,"a":0.05,"e":0.3,"b":-0.7,"f":0.3},
{"r":"AVG16","s":"L","t":-100,"a":0,"e":0.15,"b":0,"f":0.2},
{"r":"AVG16","s":"L","t":-50,"a":0,"e":0.15,"b":0.2,"f":0.2},
{"r":"AVG16","s":"L","t":0,"a":0,"e":0.15,"b":0,"f":0.2},
{"r":"AVG16","s":"L","t":20,"a":-0.05,"e":0.15,"b":-0.3,"f":0.25},
{"r":"AVG16","s":"L","t":40,"a":0.25,"e":0.2,"b":-0.1,"f":0.25},
{"r":"AVG16","s":"L","t":60,"a":0.5,"e":0.25,"b":0.05,"f":0.25},
{"r":"AVG16","s":"L","t":80,"a":-0.3,"e":0.25,"b":-1,"f":0.3},
{"r":"AVG16","s":"L","t":100,"a":-1.3,"e":0.3,"b":-2.4,"f":0.35},
{"r":"AVG16","s":"L","t":120,"a":-0.6,"e":0.35,"b":-1.8,"f":0.4},
{"r":"AVG16","s":"L","t":140,"a":0.45,"e":0.4,"b":-1.1,"f":0.45},
{"r":"AVG16","s":"L","t":160,"a":0.75,"e":0.45,"b":-1,"f":0.45},
{"r":"AVG16","s":"L","t":180,"a":0.3,"e":0.45,"b":-1.25,"f":0.45},
{"r":"AVG16","s":"L","t":200,"a":-0.35,"e":0.4,"b":-1.1,"f":0.45},
{"r":"AVG16","s":"L","t":220,"a":-0.55,"e":0.4,"b":-0.6,"f":0.45},
{"r":"AVG16","s":"L","t":240,"a":-0.65,"e":0.35,"b":-0.1,"f":0.4},
{"r":"AVG16","s":"L","t":260,"a":-0.6,"e":0.35,"b":0.1,"f":0.4},
{"r":"AVG16","s":"L","t":280,"a":-0.4,"e":0.35,"b":-0.15,"f":0.35},
{"r":"AVG16","s":"L","t":300,"a":-0.2,"e":0.3,"b":-0.25,"f":0.3},
{"r":"AVG16","s":"L","t":340,"a":-0.1,"e":0.3,"b":-0.35,"f":0.3},
{"r":"AVG16","s":"L","t":380,"a":-0.2,"e":0.3,"b":-0.75,"f":0.35},
{"r":"AVG16","s":"L","t":420,"a":-0.5,"e":0.3,"b":-0.7,"f":0.35},
{"r":"AVG16","s":"L","t":460,"a":-0.3,"e":0.3,"b":-0.9,"f":0.35},
{"r":"AVG16","s":"L","t":500,"a":-0.15,"e":0.3,"b":-0.4,"f":0.35},
{"r":"AVG16","s":"L","t":550,"a":0,"e":0.3,"b":-0.5,"f":0.4},
{"r":"AVG16","s":"L","t":600,"a":0.05,"e":0.3,"b":-0.5,"f":0.4},
{"r":"AVG16","s":"L","t":650,"a":0.1,"e":0.3,"b":-0.6,"f":0.4},
{"r":"AVG16","s":"L","t":700,"a":0.15,"e":0.35,"b":-0.4,"f":0.4},
{"r":"AVG32","s":"L","t":-100,"a":0,"e":0.15,"b":0,"f":0.2},
{"r":"AVG32","s":"L","t":-50,"a":0,"e":0.15,"b":0.15,"f":0.2},
{"r":"AVG32","s":"L","t":0,"a":0,"e":0.15,"b":0,"f":0.2},
{"r":"AVG32","s":"L","t":20,"a":-0.05,"e":0.15,"b":-0.3,"f":0.25},
{"r":"AVG32","s":"L","t":40,"a":0.25,"e":0.2,"b":-0.1,"f":0.25},
{"r":"AVG32","s":"L","t":60,"a":0.5,"e":0.25,"b":0,"f":0.25},
{"r":"AVG32","s":"L","t":80,"a":-0.3,"e":0.25,"b":-1,"f":0.3},
{"r":"AVG32","s":"L","t":100,"a":-1.3,"e":0.3,"b":-2.4,"f":0.35},
{"r":"AVG32","s":"L","t":120,"a":-0.6,"e":0.35,"b":-1.8,"f":0.4},
{"r":"AVG32","s":"L","t":140,"a":0.45,"e":0.4,"b":-1.1,"f":0.45},
{"r":"AVG32","s":"L","t":160,"a":0.75,"e":0.45,"b":-1,"f":0.45},
{"r":"AVG32","s":"L","t":180,"a":0.3,"e":0.45,"b":-1.2,"f":0.45},
{"r":"AVG32","s":"L","t":200,"a":-0.35,"e":0.4,"b":-1.1,"f":0.45},
{"r":"AVG32","s":"L","t":220,"a":-0.55,"e":0.4,"b":-0.6,"f":0.45},
{"r":"AVG32","s":"L","t":240,"a":-0.6,"e":0.35,"b":-0.1,"f":0.4},
{"r":"AVG32","s":"L","t":260,"a":-0.5,"e":0.35,"b":0.1,"f":0.4},
{"r":"AVG32","s":"L","t":280,"a":-0.4,"e":0.35,"b":-0.2,"f":0.35},
{"r":"AVG32","s":"L","t":300,"a":-0.2,"e":0.3,"b":-0.3,"f":0.3},
{"r":"AVG32","s":"L","t":340,"a":-0.15,"e":0.3,"b":-0.35,"f":0.3},
{"r":"AVG32","s":"L","t":380,"a":-0.2,"e":0.3,"b":-0.7,"f":0.35},
{"r":"AVG32","s":"L","t":420,"a":-0.4,"e":0.3,"b":-0.7,"f":0.35},
{"r":"AVG32","s":"L","t":460,"a":-0.25,"e":0.3,"b":-0.85,"f":0.35},
{"r":"AVG32","s":"L","t":500,"a":-0.15,"e":0.3,"b":-0.4,"f":0.35},
{"r":"AVG32","s":"L","t":550,"a":0,"e":0.3,"b":-0.5,"f":0.4},
{"r":"AVG32","s":"L","t":600,"a":0.05,"e":0.3,"b":-0.45,"f":0.4},
{"r":"AVG32","s":"L","t":650,"a":0.1,"e":0.3,"b":-0.5,"f":0.4},
{"r":"AVG32","s":"L","t":700,"a":0.1,"e":0.35,"b":-0.35,"f":0.4},
{"r":"AVG64","s":"L","t":-100,"a":0,"e":0.15,"b":0,"f":0.2},
{"r":"AVG64","s":"L","t":-50,"a":0,"e":0.15,"b":0.15,"f":0.2},
{"r":"AVG64","s":"L","t":0,"a":0,"e":0.15,"b":0,"f":0.2},
{"r":"AVG64","s":"L","t":20,"a":-0.05,"e":0.15,"b":-0.3,"f":0.25},
{"r":"AVG64","s":"L","t":40,"a":0.25,"e":0.2,"b":-0.1,"f":0.25},
{"r":"AVG64","s":"L","t":60,"a":0.5,"e":0.25,"b":0,"f":0.25},
{"r":"AVG64","s":"L","t":80,"a":-0.35,"e":0.25,"b":-1.05,"f":0.3},
{"r":"AVG64","s":"L","t":100,"a":-1.35,"e":0.3,"b":-2.45,"f":0.35},
{"r":"AVG64","s":"L","t":120,"a":-0.6,"e":0.35,"b":-1.85,"f":0.4},
{"r":"AVG64","s":"L","t":140,"a":0.45,"e":0.4,"b":-1.15,"f":0.45},
{"r":"AVG64","s":"L","t":160,"a":0.7,"e":0.45,"b":-1,"f":0.45},
{"r":"AVG64","s":"L","t":180,"a":0.3,"e":0.45,"b":-1.2,"f":0.45},
{"r":"AVG64","s":"L","t":200,"a":-0.35,"e":0.4,"b":-1.05,"f":0.45},
{"r":"AVG64","s":"L","t":220,"a":-0.55,"e":0.4,"b":-0.6,"f":0.45},
{"r":"AVG64","s":"L","t":240,"a":-0.6,"e":0.35,"b":-0.1,"f":0.4},
{"r":"AVG64","s":"L","t":260,"a":-0.55,"e":0.35,"b":0.05,"f":0.4},
{"r":"AVG64","s":"L","t":280,"a":-0.4,"e":0.35,"b":-0.2,"f":0.35},
{"r":"AVG64","s":"L","t":300,"a":-0.25,"e":0.3,"b":-0.3,"f":0.3},
{"r":"AVG64","s":"L","t":340,"a":-0.2,"e":0.3,"b":-0.35,"f":0.3},
{"r":"AVG64","s":"L","t":380,"a":-0.3,"e":0.3,"b":-0.75,"f":0.35},
{"r":"AVG64","s":"L","t":420,"a":-0.35,"e":0.3,"b":-0.75,"f":0.35},
{"r":"AVG64","s":"L","t":460,"a":-0.3,"e":0.3,"b":-0.8,"f":0.35},
{"r":"AVG64","s":"L","t":500,"a":-0.2,"e":0.3,"b":-0.45,"f":0.35},
{"r":"AVG64","s":"L","t":550,"a":-0.05,"e":0.3,"b":-0.55,"f":0.4},
{"r":"AVG64","s":"L","t":600,"a":0.05,"e":0.3,"b":-0.45,"f":0.4},
{"r":"AVG64","s":"L","t":650,"a":0.1,"e":0.3,"b":-0.55,"f":0.4},
{"r":"AVG64","s":"L","t":700,"a":0.1,"e":0.35,"b":-0.4,"f":0.4},
{"r":"REST16","s":"S","t":-100,"a":0.15,"e":0.2,"b":0,"f":0.2},
{"r":"REST16","s":"S","t":-50,"a":0,"e":0.2,"b":0.05,"f":0.2},
{"r":"REST16","s":"S","t":0,"a":0,"e":0.2,"b":-0.05,"f":0.2},
{"r":"REST16","s":"S","t":20,"a":0.05,"e":0.2,"b":0.1,"f":0.35},
{"r":"REST16","s":"S","t":40,"a":0.2,"e":0.2,"b":0.25,"f":0.4},
{"r":"REST16","s":"S","t":60,"a":0.35,"e":0.25,"b":0.3,"f":0.4},
{"r":"REST16","s":"S","t":80,"a":-0.3,"e":0.25,"b":-0.5,"f":0.35},
{"r":"REST16","s":"S","t":100,"a":-1.75,"e":0.3,"b":-2,"f":0.3},
{"r":"REST16","s":"S","t":120,"a":-1,"e":0.4,"b":-1.4,"f":0.3},
{"r":"REST16","s":"S","t":140,"a":0.4,"e":0.5,"b":-0.4,"f":0.35},
{"r":"REST16","s":"S","t":160,"a":1,"e":0.6,"b":-0.35,"f":0.35},
{"r":"REST16","s":"S","t":180,"a":0.4,"e":0.6,"b":-1.2,"f":0.4},
{"r":"REST16","s":"S","t":200,"a":-0.4,"e":0.55,"b":-2.2,"f":0.4},
{"r":"REST16","s":"S","t":220,"a":-0.9,"e":0.45,"b":-2.3,"f":0.4},
{"r":"REST16","s":"S","t":240,"a":-1.1,"e":0.35,"b":-1.7,"f":0.45},
{"r":"REST16","s":"S","t":260,"a":-1,"e":0.35,"b":-0.95,"f":0.5},
{"r":"REST16","s":"S","t":280,"a":-0.7,"e":0.35,"b":-0.55,"f":0.6},
{"r":"REST16","s":"S","t":300,"a":-0.5,"e":0.3,"b":-0.5,"f":0.7},
{"r":"REST16","s":"S","t":340,"a":-0.3,"e":0.3,"b":-0.7,"f":0.7},
{"r":"REST16","s":"S","t":380,"a":-0.45,"e":0.3,"b":-0.85,"f":0.7},
{"r":"REST16","s":"S","t":420,"a":-0.6,"e":0.3,"b":-1.4,"f":0.75},
{"r":"REST16","s":"S","t":460,"a":-0.5,"e":0.3,"b":-1,"f":0.8},
{"r":"REST16","s":"S","t":500,"a":-0.25,"e":0.3,"b":-0.9,"f":0.75},
{"r":"REST16","s":"S","t":550,"a":-0.05,"e":0.3,"b":-0.7,"f":0.6},
{"r":"REST16","s":"S","t":600,"a":0.05,"e":0.3,"b":-0.45,"f":0.5},
{"r":"REST16","s":"S","t":650,"a":0.05,"e":0.3,"b":-0.2,"f":0.5},
{"r":"REST16","s":"S","t":700,"a":0.05,"e":0.3,"b":-0.3,"f":0.55},
{"r":"REST32","s":"S","t":-100,"a":0.1,"e":0.2,"b":0,"f":0.2},
{"r":"REST32","s":"S","t":-50,"a":0,"e":0.2,"b":0.05,"f":0.2},
{"r":"REST32","s":"S","t":0,"a":0,"e":0.2,"b":-0.05,"f":0.2},
{"r":"REST32","s":"S","t":20,"a":0.05,"e":0.2,"b":0.1,"f":0.35},
{"r":"REST32","s":"S","t":40,"a":0.2,"e":0.2,"b":0.2,"f":0.4},
{"r":"REST32","s":"S","t":60,"a":0.35,"e":0.25,"b":0.3,"f":0.4},
{"r":"REST32","s":"S","t":80,"a":-0.3,"e":0.25,"b":-0.5,"f":0.35},
{"r":"REST32","s":"S","t":100,"a":-1.85,"e":0.3,"b":-2.05,"f":0.3},
{"r":"REST32","s":"S","t":120,"a":-1.1,"e":0.4,"b":-1.45,"f":0.3},
{"r":"REST32","s":"S","t":140,"a":0.35,"e":0.5,"b":-0.45,"f":0.35},
{"r":"REST32","s":"S","t":160,"a":0.95,"e":0.6,"b":-0.4,"f":0.35},
{"r":"REST32","s":"S","t":180,"a":0.4,"e":0.6,"b":-1.25,"f":0.4},
{"r":"REST32","s":"S","t":200,"a":-0.4,"e":0.55,"b":-2.3,"f":0.4},
{"r":"REST32","s":"S","t":220,"a":-0.95,"e":0.45,"b":-2.35,"f":0.4},
{"r":"REST32","s":"S","t":240,"a":-1.1,"e":0.35,"b":-1.75,"f":0.45},
{"r":"REST32","s":"S","t":260,"a":-1.05,"e":0.35,"b":-0.95,"f":0.5},
{"r":"REST32","s":"S","t":280,"a":-0.8,"e":0.35,"b":-0.5,"f":0.6},
{"r":"REST32","s":"S","t":300,"a":-0.5,"e":0.3,"b":-0.45,"f":0.7},
{"r":"REST32","s":"S","t":340,"a":-0.25,"e":0.3,"b":-0.75,"f":0.7},
{"r":"REST32","s":"S","t":380,"a":-0.4,"e":0.3,"b":-0.9,"f":0.7},
{"r":"REST32","s":"S","t":420,"a":-0.55,"e":0.3,"b":-1.35,"f":0.75},
{"r":"REST32","s":"S","t":460,"a":-0.45,"e":0.3,"b":-1.05,"f":0.8},
{"r":"REST32","s":"S","t":500,"a":-0.3,"e":0.3,"b":-0.9,"f":0.75},
{"r":"REST32","s":"S","t":550,"a":-0.1,"e":0.3,"b":-0.7,"f":0.6},
{"r":"REST32","s":"S","t":600,"a":0,"e":0.3,"b":-0.45,"f":0.5},
{"r":"REST32","s":"S","t":650,"a":0.05,"e":0.3,"b":-0.25,"f":0.5},
{"r":"REST32","s":"S","t":700,"a":0.05,"e":0.3,"b":-0.35,"f":0.55},
{"r":"REST64","s":"S","t":-100,"a":0.1,"e":0.2,"b":0,"f":0.2},
{"r":"REST64","s":"S","t":-50,"a":0,"e":0.2,"b":0.05,"f":0.2},
{"r":"REST64","s":"S","t":0,"a":0,"e":0.2,"b":-0.05,"f":0.2},
{"r":"REST64","s":"S","t":20,"a":0.05,"e":0.2,"b":0.1,"f":0.35},
{"r":"REST64","s":"S","t":40,"a":0.25,"e":0.2,"b":0.3,"f":0.4},
{"r":"REST64","s":"S","t":60,"a":0.45,"e":0.25,"b":0.35,"f":0.4},
{"r":"REST64","s":"S","t":80,"a":-0.4,"e":0.25,"b":-0.7,"f":0.35},
{"r":"REST64","s":"S","t":100,"a":-2.1,"e":0.3,"b":-2.55,"f":0.3},
{"r":"REST64","s":"S","t":120,"a":-1.2,"e":0.4,"b":-1.8,"f":0.3},
{"r":"REST64","s":"S","t":140,"a":0.4,"e":0.5,"b":-0.5,"f":0.35},
{"r":"REST64","s":"S","t":160,"a":1.1,"e":0.6,"b":-0.5,"f":0.35},
{"r":"REST64","s":"S","t":180,"a":0.5,"e":0.6,"b":-1.5,"f":0.4},
{"r":"REST64","s":"S","t":200,"a":-0.5,"e":0.55,"b":-2.8,"f":0.4},
{"r":"REST64","s":"S","t":220,"a":-1.1,"e":0.45,"b":-3,"f":0.4},
{"r":"REST64","s":"S","t":240,"a":-1.35,"e":0.35,"b":-2.2,"f":0.45},
{"r":"REST64","s":"S","t":260,"a":-1.35,"e":0.35,"b":-1.2,"f":0.5},
{"r":"REST64","s":"S","t":280,"a":-1.2,"e":0.35,"b":-0.7,"f":0.6},
{"r":"REST64","s":"S","t":300,"a":-1,"e":0.3,"b":-0.6,"f":0.7},
{"r":"REST64","s":"S","t":340,"a":-0.5,"e":0.3,"b":-0.85,"f":0.7},
{"r":"REST64","s":"S","t":380,"a":-0.8,"e":0.3,"b":-1.3,"f":0.7},
{"r":"REST64","s":"S","t":420,"a":-0.85,"e":0.3,"b":-1.85,"f":0.75},
{"r":"REST64","s":"S","t":460,"a":-0.6,"e":0.3,"b":-1.2,"f":0.8},
{"r":"REST64","s":"S","t":500,"a":-0.35,"e":0.3,"b":-0.9,"f":0.75},
{"r":"REST64","s":"S","t":550,"a":0,"e":0.3,"b":-0.7,"f":0.6},
{"r":"REST64","s":"S","t":600,"a":0.05,"e":0.3,"b":-0.4,"f":0.5},
{"r":"REST64","s":"S","t":650,"a":0.05,"e":0.3,"b":-0.35,"f":0.5},
{"r":"REST64","s":"S","t":700,"a":0.05,"e":0.3,"b":-0.6,"f":0.55},
{"r":"REST16","s":"M","t":-100,"a":0.1,"e":0.2,"b":0,"f":0.2},
{"r":"REST16","s":"M","t":-50,"a":0.1,"e":0.2,"b":0.2,"f":0.2},
{"r":"REST16","s":"M","t":0,"a":0.05,"e":0.2,"b":0,"f":0.2},
{"r":"REST16","s":"M","t":20,"a":0.1,"e":0.2,"b":0.05,"f":0.2},
{"r":"REST16","s":"M","t":40,"a":0.3,"e":0.25,"b":0.2,"f":0.25},
{"r":"REST16","s":"M","t":60,"a":0.55,"e":0.25,"b":0.35,"f":0.25},
{"r":"REST16","s":"M","t":80,"a":-0.4,"e":0.3,"b":-0.9,"f":0.3},
{"r":"REST16","s":"M","t":100,"a":-1.7,"e":0.3,"b":-2.4,"f":0.3},
{"r":"REST16","s":"M","t":120,"a":-0.9,"e":0.35,"b":-1.8,"f":0.35},
{"r":"REST16","s":"M","t":140,"a":0.35,"e":0.45,"b":-1.4,"f":0.35},
{"r":"REST16","s":"M","t":160,"a":0.65,"e":0.5,"b":-1.35,"f":0.35},
{"r":"REST16","s":"M","t":180,"a":0.2,"e":0.5,"b":-1.8,"f":0.4},
{"r":"REST16","s":"M","t":200,"a":-0.6,"e":0.45,"b":-1.95,"f":0.4},
{"r":"REST16","s":"M","t":220,"a":-0.9,"e":0.45,"b":-1.35,"f":0.4},
{"r":"REST16","s":"M","t":240,"a":-0.9,"e":0.45,"b":-0.6,"f":0.45},
{"r":"REST16","s":"M","t":260,"a":-0.9,"e":0.4,"b":-0.15,"f":0.45},
{"r":"REST16","s":"M","t":280,"a":-0.85,"e":0.4,"b":-0.5,"f":0.45},
{"r":"REST16","s":"M","t":300,"a":-0.5,"e":0.4,"b":-0.7,"f":0.5},
{"r":"REST16","s":"M","t":340,"a":-0.45,"e":0.35,"b":-0.9,"f":0.55},
{"r":"REST16","s":"M","t":380,"a":-0.65,"e":0.35,"b":-1.5,"f":0.6},
{"r":"REST16","s":"M","t":420,"a":-0.8,"e":0.35,"b":-1.85,"f":0.5},
{"r":"REST16","s":"M","t":460,"a":-0.6,"e":0.35,"b":-1.35,"f":0.45},
{"r":"REST16","s":"M","t":500,"a":-0.45,"e":0.35,"b":-1.4,"f":0.4},
{"r":"REST16","s":"M","t":550,"a":-0.2,"e":0.35,"b":-1.1,"f":0.4},
{"r":"REST16","s":"M","t":600,"a":-0.05,"e":0.35,"b":-0.75,"f":0.35},
{"r":"REST16","s":"M","t":650,"a":0.05,"e":0.35,"b":-1,"f":0.35},
{"r":"REST16","s":"M","t":700,"a":0.1,"e":0.35,"b":-0.8,"f":0.35},
{"r":"REST32","s":"M","t":-100,"a":0.1,"e":0.2,"b":0,"f":0.2},
{"r":"REST32","s":"M","t":-50,"a":0.1,"e":0.2,"b":0.2,"f":0.2},
{"r":"REST32","s":"M","t":0,"a":0.05,"e":0.2,"b":0,"f":0.2},
{"r":"REST32","s":"M","t":20,"a":0.1,"e":0.2,"b":0.05,"f":0.2},
{"r":"REST32","s":"M","t":40,"a":0.3,"e":0.25,"b":0.2,"f":0.25},
{"r":"REST32","s":"M","t":60,"a":0.5,"e":0.25,"b":0.35,"f":0.25},
{"r":"REST32","s":"M","t":80,"a":-0.4,"e":0.3,"b":-1,"f":0.3},
{"r":"REST32","s":"M","t":100,"a":-1.7,"e":0.3,"b":-2.5,"f":0.3},
{"r":"REST32","s":"M","t":120,"a":-0.9,"e":0.35,"b":-1.9,"f":0.35},
{"r":"REST32","s":"M","t":140,"a":0.35,"e":0.45,"b":-1.4,"f":0.35},
{"r":"REST32","s":"M","t":160,"a":0.6,"e":0.5,"b":-1.35,"f":0.35},
{"r":"REST32","s":"M","t":180,"a":0.2,"e":0.5,"b":-1.85,"f":0.4},
{"r":"REST32","s":"M","t":200,"a":-0.6,"e":0.45,"b":-2.05,"f":0.4},
{"r":"REST32","s":"M","t":220,"a":-0.9,"e":0.45,"b":-1.4,"f":0.4},
{"r":"REST32","s":"M","t":240,"a":-0.9,"e":0.45,"b":-0.6,"f":0.45},
{"r":"REST32","s":"M","t":260,"a":-0.9,"e":0.4,"b":-0.15,"f":0.45},
{"r":"REST32","s":"M","t":280,"a":-0.8,"e":0.4,"b":-0.5,"f":0.45},
{"r":"REST32","s":"M","t":300,"a":-0.5,"e":0.4,"b":-0.7,"f":0.5},
{"r":"REST32","s":"M","t":340,"a":-0.4,"e":0.35,"b":-0.95,"f":0.55},
{"r":"REST32","s":"M","t":380,"a":-0.6,"e":0.35,"b":-1.6,"f":0.6},
{"r":"REST32","s":"M","t":420,"a":-0.8,"e":0.35,"b":-2.05,"f":0.5},
{"r":"REST32","s":"M","t":460,"a":-0.6,"e":0.35,"b":-1.4,"f":0.45},
{"r":"REST32","s":"M","t":500,"a":-0.45,"e":0.35,"b":-1.35,"f":0.4},
{"r":"REST32","s":"M","t":550,"a":-0.25,"e":0.35,"b":-1.15,"f":0.4},
{"r":"REST32","s":"M","t":600,"a":-0.1,"e":0.35,"b":-0.8,"f":0.35},
{"r":"REST32","s":"M","t":650,"a":0,"e":0.35,"b":-0.9,"f":0.35},
{"r":"REST32","s":"M","t":700,"a":0.05,"e":0.35,"b":-0.85,"f":0.35},
{"r":"REST64","s":"M","t":-100,"a":0.1,"e":0.2,"b":0,"f":0.2},
{"r":"REST64","s":"M","t":-50,"a":0.1,"e":0.2,"b":0.2,"f":0.2},
{"r":"REST64","s":"M","t":0,"a":0.05,"e":0.2,"b":0,"f":0.2},
{"r":"REST64","s":"M","t":20,"a":0.1,"e":0.2,"b":0.05,"f":0.2},
{"r":"REST64","s":"M","t":40,"a":0.3,"e":0.25,"b":0.2,"f":0.25},
{"r":"REST64","s":"M","t":60,"a":0.55,"e":0.25,"b":0.35,"f":0.25},
{"r":"REST64","s":"M","t":80,"a":-0.5,"e":0.3,"b":-1.1,"f":0.3},
{"r":"REST64","s":"M","t":100,"a":-2.2,"e":0.3,"b":-3,"f":0.3},
{"r":"REST64","s":"M","t":120,"a":-1.2,"e":0.35,"b":-2.3,"f":0.35},
{"r":"REST64","s":"M","t":140,"a":0.25,"e":0.45,"b":-1.7,"f":0.35},
{"r":"REST64","s":"M","t":160,"a":0.6,"e":0.5,"b":-1.7,"f":0.35},
{"r":"REST64","s":"M","t":180,"a":0.15,"e":0.5,"b":-2.3,"f":0.4},
{"r":"REST64","s":"M","t":200,"a":-0.8,"e":0.45,"b":-2.5,"f":0.4},
{"r":"REST64","s":"M","t":220,"a":-1.1,"e":0.45,"b":-1.7,"f":0.4},
{"r":"REST64","s":"M","t":240,"a":-1.1,"e":0.45,"b":-0.8,"f":0.45},
{"r":"REST64","s":"M","t":260,"a":-1.1,"e":0.4,"b":-0.15,"f":0.45},
{"r":"REST64","s":"M","t":280,"a":-1,"e":0.4,"b":-0.5,"f":0.45},
{"r":"REST64","s":"M","t":300,"a":-0.7,"e":0.4,"b":-0.8,"f":0.5},
{"r":"REST64","s":"M","t":340,"a":-0.5,"e":0.35,"b":-1.1,"f":0.55},
{"r":"REST64","s":"M","t":380,"a":-0.8,"e":0.35,"b":-1.7,"f":0.6},
{"r":"REST64","s":"M","t":420,"a":-1.1,"e":0.35,"b":-2.05,"f":0.5},
{"r":"REST64","s":"M","t":460,"a":-0.9,"e":0.35,"b":-1.5,"f":0.45},
{"r":"REST64","s":"M","t":500,"a":-0.6,"e":0.35,"b":-1.5,"f":0.4},
{"r":"REST64","s":"M","t":550,"a":-0.35,"e":0.35,"b":-1.35,"f":0.4},
{"r":"REST64","s":"M","t":600,"a":-0.15,"e":0.35,"b":-1,"f":0.35},
{"r":"REST64","s":"M","t":650,"a":0,"e":0.35,"b":-0.9,"f":0.35},
{"r":"REST64","s":"M","t":700,"a":0.05,"e":0.35,"b":-0.95,"f":0.35},
{"r":"REST16","s":"L","t":-100,"a":0,"e":0.2,"b":0,"f":0.2},
{"r":"REST16","s":"L","t":-50,"a":0,"e":0.2,"b":0.15,"f":0.2},
{"r":"REST16","s":"L","t":0,"a":0,"e":0.2,"b":0,"f":0.2},
{"r":"REST16","s":"L","t":20,"a":0,"e":0.2,"b":-0.4,"f":0.3},
{"r":"REST16","s":"L","t":40,"a":0.3,"e":0.25,"b":-0.1,"f":0.3},
{"r":"REST16","s":"L","t":60,"a":0.55,"e":0.3,"b":0,"f":0.3},
{"r":"REST16","s":"L","t":80,"a":-0.3,"e":0.3,"b":-1.2,"f":0.35},
{"r":"REST16","s":"L","t":100,"a":-1.55,"e":0.35,"b":-2.7,"f":0.4},
{"r":"REST16","s":"L","t":120,"a":-0.7,"e":0.4,"b":-2,"f":0.45},
{"r":"REST16","s":"L","t":140,"a":0.45,"e":0.5,"b":-1.3,"f":0.45},
{"r":"REST16","s":"L","t":160,"a":0.75,"e":0.55,"b":-1.15,"f":0.45},
{"r":"REST16","s":"L","t":180,"a":0.3,"e":0.55,"b":-1.45,"f":0.5},
{"r":"REST16","s":"L","t":200,"a":-0.3,"e":0.5,"b":-1.35,"f":0.5},
{"r":"REST16","s":"L","t":220,"a":-0.7,"e":0.45,"b":-0.8,"f":0.5},
{"r":"REST16","s":"L","t":240,"a":-0.85,"e":0.45,"b":-0.2,"f":0.5},
{"r":"REST16","s":"L","t":260,"a":-0.8,"e":0.4,"b":0.1,"f":0.5},
{"r":"REST16","s":"L","t":280,"a":-0.65,"e":0.4,"b":-0.3,"f":0.45},
{"r":"REST16","s":"L","t":300,"a":-0.5,"e":0.35,"b":-0.35,"f":0.4},
{"r":"REST16","s":"L","t":340,"a":-0.5,"e":0.35,"b":-0.25,"f":0.35},
{"r":"REST16","s":"L","t":380,"a":-0.55,"e":0.35,"b":-0.8,"f":0.4},
{"r":"REST16","s":"L","t":420,"a":-0.65,"e":0.35,"b":-0.8,"f":0.45},
{"r":"REST16","s":"L","t":460,"a":-0.5,"e":0.35,"b":-0.9,"f":0.45},
{"r":"REST16","s":"L","t":500,"a":-0.35,"e":0.35,"b":-0.5,"f":0.45},
{"r":"REST16","s":"L","t":550,"a":-0.2,"e":0.35,"b":-0.55,"f":0.45},
{"r":"REST16","s":"L","t":600,"a":-0.05,"e":0.35,"b":-0.25,"f":0.45},
{"r":"REST16","s":"L","t":650,"a":0.05,"e":0.35,"b":-0.65,"f":0.45},
{"r":"REST16","s":"L","t":700,"a":0.1,"e":0.4,"b":-0.5,"f":0.45},
{"r":"REST32","s":"L","t":-100,"a":0,"e":0.2,"b":0,"f":0.2},
{"r":"REST32","s":"L","t":-50,"a":0,"e":0.2,"b":0.15,"f":0.2},
{"r":"REST32","s":"L","t":0,"a":0,"e":0.2,"b":0,"f":0.2},
{"r":"REST32","s":"L","t":20,"a":0,"e":0.2,"b":-0.4,"f":0.3},
{"r":"REST32","s":"L","t":40,"a":0.3,"e":0.25,"b":-0.1,"f":0.3},
{"r":"REST32","s":"L","t":60,"a":0.55,"e":0.3,"b":0,"f":0.3},
{"r":"REST32","s":"L","t":80,"a":-0.3,"e":0.3,"b":-1.2,"f":0.35},
{"r":"REST32","s":"L","t":100,"a":-1.5,"e":0.35,"b":-2.65,"f":0.4},
{"r":"REST32","s":"L","t":120,"a":-0.65,"e":0.4,"b":-2,"f":0.45},
{"r":"REST32","s":"L","t":140,"a":0.5,"e":0.5,"b":-1.3,"f":0.45},
{"r":"REST32","s":"L","t":160,"a":0.8,"e":0.55,"b":-1.15,"f":0.45},
{"r":"REST32","s":"L","t":180,"a":0.35,"e":0.55,"b":-1.45,"f":0.5},
{"r":"REST32","s":"L","t":200,"a":-0.3,"e":0.5,"b":-1.3,"f":0.5},
{"r":"REST32","s":"L","t":220,"a":-0.7,"e":0.45,"b":-0.75,"f":0.5},
{"r":"REST32","s":"L","t":240,"a":-0.8,"e":0.45,"b":-0.2,"f":0.5},
{"r":"REST32","s":"L","t":260,"a":-0.75,"e":0.4,"b":0.1,"f":0.5},
{"r":"REST32","s":"L","t":280,"a":-0.6,"e":0.4,"b":-0.3,"f":0.45},
{"r":"REST32","s":"L","t":300,"a":-0.45,"e":0.35,"b":-0.35,"f":0.4},
{"r":"REST32","s":"L","t":340,"a":-0.4,"e":0.35,"b":-0.3,"f":0.35},
{"r":"REST32","s":"L","t":380,"a":-0.45,"e":0.35,"b":-0.8,"f":0.4},
{"r":"REST32","s":"L","t":420,"a":-0.55,"e":0.35,"b":-0.75,"f":0.45},
{"r":"REST32","s":"L","t":460,"a":-0.4,"e":0.35,"b":-0.85,"f":0.45},
{"r":"REST32","s":"L","t":500,"a":-0.3,"e":0.35,"b":-0.5,"f":0.45},
{"r":"REST32","s":"L","t":550,"a":-0.15,"e":0.35,"b":-0.45,"f":0.45},
{"r":"REST32","s":"L","t":600,"a":-0.05,"e":0.35,"b":-0.35,"f":0.45},
{"r":"REST32","s":"L","t":650,"a":0.05,"e":0.35,"b":-0.5,"f":0.45},
{"r":"REST32","s":"L","t":700,"a":0.1,"e":0.4,"b":-0.45,"f":0.45},
{"r":"REST64","s":"L","t":-100,"a":0,"e":0.2,"b":0,"f":0.2},
{"r":"REST64","s":"L","t":-50,"a":0,"e":0.2,"b":0.15,"f":0.2},
{"r":"REST64","s":"L","t":0,"a":0,"e":0.2,"b":0,"f":0.2},
{"r":"REST64","s":"L","t":20,"a":0,"e":0.2,"b":-0.4,"f":0.3},
{"r":"REST64","s":"L","t":40,"a":0.3,"e":0.25,"b":-0.1,"f":0.3},
{"r":"REST64","s":"L","t":60,"a":0.55,"e":0.3,"b":0,"f":0.3},
{"r":"REST64","s":"L","t":80,"a":-0.4,"e":0.3,"b":-1.4,"f":0.35},
{"r":"REST64","s":"L","t":100,"a":-1.75,"e":0.35,"b":-3.25,"f":0.4},
{"r":"REST64","s":"L","t":120,"a":-0.8,"e":0.4,"b":-2.4,"f":0.45},
{"r":"REST64","s":"L","t":140,"a":0.5,"e":0.5,"b":-1.6,"f":0.45},
{"r":"REST64","s":"L","t":160,"a":0.95,"e":0.55,"b":-1.45,"f":0.45},
{"r":"REST64","s":"L","t":180,"a":0.4,"e":0.55,"b":-1.8,"f":0.5},
{"r":"REST64","s":"L","t":200,"a":-0.3,"e":0.5,"b":-1.7,"f":0.5},
{"r":"REST64","s":"L","t":220,"a":-0.7,"e":0.45,"b":-1,"f":0.5},
{"r":"REST64","s":"L","t":240,"a":-0.9,"e":0.45,"b":-0.2,"f":0.5},
{"r":"REST64","s":"L","t":260,"a":-0.85,"e":0.4,"b":0.15,"f":0.5},
{"r":"REST64","s":"L","t":280,"a":-0.7,"e":0.4,"b":-0.2,"f":0.45},
{"r":"REST64","s":"L","t":300,"a":-0.55,"e":0.35,"b":-0.45,"f":0.4},
{"r":"REST64","s":"L","t":340,"a":-0.45,"e":0.35,"b":-0.35,"f":0.35},
{"r":"REST64","s":"L","t":380,"a":-0.5,"e":0.35,"b":-0.9,"f":0.4},
{"r":"REST64","s":"L","t":420,"a":-0.55,"e":0.35,"b":-0.9,"f":0.45},
{"r":"REST64","s":"L","t":460,"a":-0.45,"e":0.35,"b":-1,"f":0.45},
{"r":"REST64","s":"L","t":500,"a":-0.3,"e":0.35,"b":-0.5,"f":0.45},
{"r":"REST64","s":"L","t":550,"a":-0.15,"e":0.35,"b":-0.7,"f":0.45},
{"r":"REST64","s":"L","t":600,"a":-0.05,"e":0.35,"b":-0.35,"f":0.45},
{"r":"REST64","s":"L","t":650,"a":0.05,"e":0.35,"b":-0.5,"f":0.45},
{"r":"REST64","s":"L","t":700,"a":0.1,"e":0.4,"b":-0.5,"f":0.45}
    ]
  },
  "spacing": 18,
  "hconcat": [
    {
      "spacing": 36,
      "bounds": "flush",
      "vconcat": [
        {"width": 27, "height": 30, "data": {"values": [{"lab": ""}]}, "mark": {"type": "text"}, "encoding": {"text": {"field": "lab"}}},
        {"width": 27, "height": 239, "view": {"fill": "#eeedeb", "stroke": null}, "data": {"values": [{"lab": "LM"}]}, "mark": {"type": "text", "angle": 270, "fontSize": 13.5, "color": "#222"}, "encoding": {"text": {"field": "lab"}}},
        {"width": 27, "height": 239, "view": {"fill": "#eeedeb", "stroke": null}, "data": {"values": [{"lab": "AVG"}]}, "mark": {"type": "text", "angle": 270, "fontSize": 13.5, "color": "#222"}, "encoding": {"text": {"field": "lab"}}},
        {"width": 27, "height": 239, "view": {"fill": "#eeedeb", "stroke": null}, "data": {"values": [{"lab": "REST"}]}, "mark": {"type": "text", "angle": 270, "fontSize": 13.5, "color": "#222"}, "encoding": {"text": {"field": "lab"}}}
      ]
    },
    {
      "spacing": 15.5,
      "vconcat": [
        {
          "data": {"values": [{"s": "S", "lab": "Small"}, {"s": "M", "lab": "Medium"}, {"s": "L", "lab": "Large"}]},
          "facet": {"column": {"field": "s", "sort": ["S", "M", "L"], "header": null}},
          "spacing": {"column": 123},
          "bounds": "flush",
          "resolve": {"axis": {"y": "independent"}},
          "spec": {
            "width": 445, "height": 35,
            "view": {"fill": "#eeedeb", "stroke": null},
            "mark": {"type": "text", "fontSize": 14, "fontWeight": "bold", "color": "#000"},
            "encoding": {
              "text": {"field": "lab"},
              "y": {"datum": 0, "type": "quantitative", "scale": {"domain": [-1, 1]}, "axis": {"title": " ", "labels": false, "ticks": false, "domain": false}}
            }
          }
        },
        {
          "spacing": -4.5,
          "vconcat": [
            {
              "data": {"name": "erp"},
              "transform": [{"filter": "datum.r == 'LM16'"}],
              "facet": {"column": {"field": "s", "sort": ["S", "M", "L"], "header": null}},
              "spacing": {"column": 115},
              "bounds": "flush",
              "resolve": {"axis": {"y": "independent"}},
              "spec": {
                "width": 453, "height": 70,
                "encoding": {"x": {"field": "t", "type": "quantitative", "scale": {"domain": [-100, 700], "nice": false, "zero": false}, "axis": {"values": [-100, 300, 700], "title": null}}},
                "layer": [
                  {"mark": {"type": "errorband", "color": "#ff0000", "opacity": 0.17, "interpolate": "monotone", "borders": {"opacity": 0.35, "strokeWidth": 0.8}}, "encoding": {"y": {"field": "a", "type": "quantitative", "title": "16 ch", "scale": {"domain": [-6, 3], "nice": false, "zero": false}, "axis": {"values": [-6, 3]}}, "yError": {"field": "e"}}},
                  {"mark": {"type": "errorband", "color": "#0000ff", "opacity": 0.17, "interpolate": "monotone", "borders": {"opacity": 0.35, "strokeWidth": 0.8}}, "encoding": {"y": {"field": "b", "type": "quantitative", "title": "16 ch"}, "yError": {"field": "f"}}},
                  {"transform": [{"filter": "datum.t == -100"}], "mark": {"type": "rule", "color": "#404040", "strokeWidth": 1.2}, "encoding": {"x": {"datum": -100}, "x2": {"datum": 700}, "y": {"datum": 0}}},
                  {"transform": [{"filter": "datum.t == -100"}], "mark": {"type": "rule", "color": "#404040", "strokeWidth": 1.1, "strokeDash": [2, 2.5]}, "encoding": {"x": {"datum": 0}}},
                  {"mark": {"type": "line", "strokeWidth": 2, "interpolate": "monotone"}, "encoding": {"y": {"field": "a", "type": "quantitative", "title": "16 ch"}, "color": {"datum": "Standard", "scale": {"domain": ["Standard", "Deviant"], "range": ["#ff0000", "#0000ff"]}, "legend": {"orient": "none", "legendX": 289, "legendY": 43, "direction": "horizontal", "title": null, "symbolType": "stroke", "symbolSize": 1764, "symbolStrokeWidth": 2.2, "labelFontSize": 14, "labelColor": "#111", "labelOffset": 5, "columnPadding": 4, "padding": 0}}}},
                  {"mark": {"type": "line", "strokeWidth": 2, "interpolate": "monotone"}, "encoding": {"y": {"field": "b", "type": "quantitative", "title": "16 ch"}, "color": {"datum": "Deviant"}}}
                ]
              }
            },
            {
              "data": {"name": "erp"},
              "transform": [{"filter": "datum.r == 'LM32'"}],
              "facet": {"column": {"field": "s", "sort": ["S", "M", "L"], "header": null}},
              "spacing": {"column": 115},
              "bounds": "flush",
              "resolve": {"axis": {"y": "independent"}},
              "spec": {
                "width": 453, "height": 70,
                "encoding": {"x": {"field": "t", "type": "quantitative", "scale": {"domain": [-100, 700], "nice": false, "zero": false}, "axis": {"values": [-100, 300, 700], "title": null}}},
                "layer": [
                  {"mark": {"type": "errorband", "color": "#ff0000", "opacity": 0.17, "interpolate": "monotone", "borders": {"opacity": 0.35, "strokeWidth": 0.8}}, "encoding": {"y": {"field": "a", "type": "quantitative", "title": "32 ch", "scale": {"domain": [-6, 3], "nice": false, "zero": false}, "axis": {"values": [-6, 3]}}, "yError": {"field": "e"}}},
                  {"mark": {"type": "errorband", "color": "#0000ff", "opacity": 0.17, "interpolate": "monotone", "borders": {"opacity": 0.35, "strokeWidth": 0.8}}, "encoding": {"y": {"field": "b", "type": "quantitative", "title": "32 ch"}, "yError": {"field": "f"}}},
                  {"transform": [{"filter": "datum.t == -100"}], "mark": {"type": "rule", "color": "#404040", "strokeWidth": 1.2}, "encoding": {"x": {"datum": -100}, "x2": {"datum": 700}, "y": {"datum": 0}}},
                  {"transform": [{"filter": "datum.t == -100"}], "mark": {"type": "rule", "color": "#404040", "strokeWidth": 1.1, "strokeDash": [2, 2.5]}, "encoding": {"x": {"datum": 0}}},
                  {"mark": {"type": "line", "color": "#ff0000", "strokeWidth": 2, "interpolate": "monotone"}, "encoding": {"y": {"field": "a", "type": "quantitative", "title": "32 ch"}}},
                  {"mark": {"type": "line", "color": "#0000ff", "strokeWidth": 2, "interpolate": "monotone"}, "encoding": {"y": {"field": "b", "type": "quantitative", "title": "32 ch"}}}
                ]
              }
            },
            {
              "data": {"name": "erp"},
              "transform": [{"filter": "datum.r == 'LM64'"}],
              "facet": {"column": {"field": "s", "sort": ["S", "M", "L"], "header": null}},
              "spacing": {"column": 115},
              "bounds": "flush",
              "resolve": {"axis": {"y": "independent"}},
              "spec": {
                "width": 453, "height": 70,
                "encoding": {"x": {"field": "t", "type": "quantitative", "scale": {"domain": [-100, 700], "nice": false, "zero": false}, "axis": {"values": [-100, 300, 700], "title": null}}},
                "layer": [
                  {"mark": {"type": "errorband", "color": "#ff0000", "opacity": 0.17, "interpolate": "monotone", "borders": {"opacity": 0.35, "strokeWidth": 0.8}}, "encoding": {"y": {"field": "a", "type": "quantitative", "title": "64 ch", "scale": {"domain": [-6, 3], "nice": false, "zero": false}, "axis": {"values": [-6, 3]}}, "yError": {"field": "e"}}},
                  {"mark": {"type": "errorband", "color": "#0000ff", "opacity": 0.17, "interpolate": "monotone", "borders": {"opacity": 0.35, "strokeWidth": 0.8}}, "encoding": {"y": {"field": "b", "type": "quantitative", "title": "64 ch"}, "yError": {"field": "f"}}},
                  {"transform": [{"filter": "datum.t == -100"}], "mark": {"type": "rule", "color": "#404040", "strokeWidth": 1.2}, "encoding": {"x": {"datum": -100}, "x2": {"datum": 700}, "y": {"datum": 0}}},
                  {"transform": [{"filter": "datum.t == -100"}], "mark": {"type": "rule", "color": "#404040", "strokeWidth": 1.1, "strokeDash": [2, 2.5]}, "encoding": {"x": {"datum": 0}}},
                  {"mark": {"type": "line", "color": "#ff0000", "strokeWidth": 2, "interpolate": "monotone"}, "encoding": {"y": {"field": "a", "type": "quantitative", "title": "64 ch"}}},
                  {"mark": {"type": "line", "color": "#0000ff", "strokeWidth": 2, "interpolate": "monotone"}, "encoding": {"y": {"field": "b", "type": "quantitative", "title": "64 ch"}}}
                ]
              }
            },
            {
              "data": {"name": "erp"},
              "transform": [{"filter": "datum.r == 'AVG16'"}],
              "facet": {"column": {"field": "s", "sort": ["S", "M", "L"], "header": null}},
              "spacing": {"column": 115},
              "bounds": "flush",
              "resolve": {"axis": {"y": "independent"}},
              "spec": {
                "width": 453, "height": 70,
                "encoding": {"x": {"field": "t", "type": "quantitative", "scale": {"domain": [-100, 700], "nice": false, "zero": false}, "axis": {"values": [-100, 300, 700], "title": null}}},
                "layer": [
                  {"mark": {"type": "errorband", "color": "#ff0000", "opacity": 0.17, "interpolate": "monotone", "borders": {"opacity": 0.35, "strokeWidth": 0.8}}, "encoding": {"y": {"field": "a", "type": "quantitative", "title": "16 ch", "scale": {"domain": [-3, 2], "nice": false, "zero": false}, "axis": {"values": [-3, 2]}}, "yError": {"field": "e"}}},
                  {"mark": {"type": "errorband", "color": "#0000ff", "opacity": 0.17, "interpolate": "monotone", "borders": {"opacity": 0.35, "strokeWidth": 0.8}}, "encoding": {"y": {"field": "b", "type": "quantitative", "title": "16 ch"}, "yError": {"field": "f"}}},
                  {"transform": [{"filter": "datum.t == -100"}], "mark": {"type": "rule", "color": "#404040", "strokeWidth": 1.2}, "encoding": {"x": {"datum": -100}, "x2": {"datum": 700}, "y": {"datum": 0}}},
                  {"transform": [{"filter": "datum.t == -100"}], "mark": {"type": "rule", "color": "#404040", "strokeWidth": 1.1, "strokeDash": [2, 2.5]}, "encoding": {"x": {"datum": 0}}},
                  {"mark": {"type": "line", "color": "#ff0000", "strokeWidth": 2, "interpolate": "monotone"}, "encoding": {"y": {"field": "a", "type": "quantitative", "title": "16 ch"}}},
                  {"mark": {"type": "line", "color": "#0000ff", "strokeWidth": 2, "interpolate": "monotone"}, "encoding": {"y": {"field": "b", "type": "quantitative", "title": "16 ch"}}}
                ]
              }
            },
            {
              "data": {"name": "erp"},
              "transform": [{"filter": "datum.r == 'AVG32'"}],
              "facet": {"column": {"field": "s", "sort": ["S", "M", "L"], "header": null}},
              "spacing": {"column": 115},
              "bounds": "flush",
              "resolve": {"axis": {"y": "independent"}},
              "spec": {
                "width": 453, "height": 70,
                "encoding": {"x": {"field": "t", "type": "quantitative", "scale": {"domain": [-100, 700], "nice": false, "zero": false}, "axis": {"values": [-100, 300, 700], "title": null}}},
                "layer": [
                  {"mark": {"type": "errorband", "color": "#ff0000", "opacity": 0.17, "interpolate": "monotone", "borders": {"opacity": 0.35, "strokeWidth": 0.8}}, "encoding": {"y": {"field": "a", "type": "quantitative", "title": "32 ch", "scale": {"domain": [-3, 2], "nice": false, "zero": false}, "axis": {"values": [-3, 2]}}, "yError": {"field": "e"}}},
                  {"mark": {"type": "errorband", "color": "#0000ff", "opacity": 0.17, "interpolate": "monotone", "borders": {"opacity": 0.35, "strokeWidth": 0.8}}, "encoding": {"y": {"field": "b", "type": "quantitative", "title": "32 ch"}, "yError": {"field": "f"}}},
                  {"transform": [{"filter": "datum.t == -100"}], "mark": {"type": "rule", "color": "#404040", "strokeWidth": 1.2}, "encoding": {"x": {"datum": -100}, "x2": {"datum": 700}, "y": {"datum": 0}}},
                  {"transform": [{"filter": "datum.t == -100"}], "mark": {"type": "rule", "color": "#404040", "strokeWidth": 1.1, "strokeDash": [2, 2.5]}, "encoding": {"x": {"datum": 0}}},
                  {"mark": {"type": "line", "color": "#ff0000", "strokeWidth": 2, "interpolate": "monotone"}, "encoding": {"y": {"field": "a", "type": "quantitative", "title": "32 ch"}}},
                  {"mark": {"type": "line", "color": "#0000ff", "strokeWidth": 2, "interpolate": "monotone"}, "encoding": {"y": {"field": "b", "type": "quantitative", "title": "32 ch"}}}
                ]
              }
            },
            {
              "data": {"name": "erp"},
              "transform": [{"filter": "datum.r == 'AVG64'"}],
              "facet": {"column": {"field": "s", "sort": ["S", "M", "L"], "header": null}},
              "spacing": {"column": 115},
              "bounds": "flush",
              "resolve": {"axis": {"y": "independent"}},
              "spec": {
                "width": 453, "height": 70,
                "encoding": {"x": {"field": "t", "type": "quantitative", "scale": {"domain": [-100, 700], "nice": false, "zero": false}, "axis": {"values": [-100, 300, 700], "title": null}}},
                "layer": [
                  {"mark": {"type": "errorband", "color": "#ff0000", "opacity": 0.17, "interpolate": "monotone", "borders": {"opacity": 0.35, "strokeWidth": 0.8}}, "encoding": {"y": {"field": "a", "type": "quantitative", "title": "64 ch", "scale": {"domain": [-3, 2], "nice": false, "zero": false}, "axis": {"values": [-3, 2]}}, "yError": {"field": "e"}}},
                  {"mark": {"type": "errorband", "color": "#0000ff", "opacity": 0.17, "interpolate": "monotone", "borders": {"opacity": 0.35, "strokeWidth": 0.8}}, "encoding": {"y": {"field": "b", "type": "quantitative", "title": "64 ch"}, "yError": {"field": "f"}}},
                  {"transform": [{"filter": "datum.t == -100"}], "mark": {"type": "rule", "color": "#404040", "strokeWidth": 1.2}, "encoding": {"x": {"datum": -100}, "x2": {"datum": 700}, "y": {"datum": 0}}},
                  {"transform": [{"filter": "datum.t == -100"}], "mark": {"type": "rule", "color": "#404040", "strokeWidth": 1.1, "strokeDash": [2, 2.5]}, "encoding": {"x": {"datum": 0}}},
                  {"mark": {"type": "line", "color": "#ff0000", "strokeWidth": 2, "interpolate": "monotone"}, "encoding": {"y": {"field": "a", "type": "quantitative", "title": "64 ch"}}},
                  {"mark": {"type": "line", "color": "#0000ff", "strokeWidth": 2, "interpolate": "monotone"}, "encoding": {"y": {"field": "b", "type": "quantitative", "title": "64 ch"}}}
                ]
              }
            },
            {
              "data": {"name": "erp"},
              "transform": [{"filter": "datum.r == 'REST16'"}],
              "facet": {"column": {"field": "s", "sort": ["S", "M", "L"], "header": null}},
              "spacing": {"column": 115},
              "bounds": "flush",
              "resolve": {"axis": {"y": "independent"}},
              "spec": {
                "width": 453, "height": 70,
                "encoding": {"x": {"field": "t", "type": "quantitative", "scale": {"domain": [-100, 700], "nice": false, "zero": false}, "axis": {"values": [-100, 300, 700], "title": null}}},
                "layer": [
                  {"mark": {"type": "errorband", "color": "#ff0000", "opacity": 0.17, "interpolate": "monotone", "borders": {"opacity": 0.35, "strokeWidth": 0.8}}, "encoding": {"y": {"field": "a", "type": "quantitative", "title": "16 ch", "scale": {"domain": [-4, 2], "nice": false, "zero": false}, "axis": {"values": [-4, 2]}}, "yError": {"field": "e"}}},
                  {"mark": {"type": "errorband", "color": "#0000ff", "opacity": 0.17, "interpolate": "monotone", "borders": {"opacity": 0.35, "strokeWidth": 0.8}}, "encoding": {"y": {"field": "b", "type": "quantitative", "title": "16 ch"}, "yError": {"field": "f"}}},
                  {"transform": [{"filter": "datum.t == -100"}], "mark": {"type": "rule", "color": "#404040", "strokeWidth": 1.2}, "encoding": {"x": {"datum": -100}, "x2": {"datum": 700}, "y": {"datum": 0}}},
                  {"transform": [{"filter": "datum.t == -100"}], "mark": {"type": "rule", "color": "#404040", "strokeWidth": 1.1, "strokeDash": [2, 2.5]}, "encoding": {"x": {"datum": 0}}},
                  {"mark": {"type": "line", "color": "#ff0000", "strokeWidth": 2, "interpolate": "monotone"}, "encoding": {"y": {"field": "a", "type": "quantitative", "title": "16 ch"}}},
                  {"mark": {"type": "line", "color": "#0000ff", "strokeWidth": 2, "interpolate": "monotone"}, "encoding": {"y": {"field": "b", "type": "quantitative", "title": "16 ch"}}}
                ]
              }
            },
            {
              "data": {"name": "erp"},
              "transform": [{"filter": "datum.r == 'REST32'"}],
              "facet": {"column": {"field": "s", "sort": ["S", "M", "L"], "header": null}},
              "spacing": {"column": 115},
              "bounds": "flush",
              "resolve": {"axis": {"y": "independent"}},
              "spec": {
                "width": 453, "height": 70,
                "encoding": {"x": {"field": "t", "type": "quantitative", "scale": {"domain": [-100, 700], "nice": false, "zero": false}, "axis": {"values": [-100, 300, 700], "title": null}}},
                "layer": [
                  {"mark": {"type": "errorband", "color": "#ff0000", "opacity": 0.17, "interpolate": "monotone", "borders": {"opacity": 0.35, "strokeWidth": 0.8}}, "encoding": {"y": {"field": "a", "type": "quantitative", "title": "32 ch", "scale": {"domain": [-4, 2], "nice": false, "zero": false}, "axis": {"values": [-4, 2]}}, "yError": {"field": "e"}}},
                  {"mark": {"type": "errorband", "color": "#0000ff", "opacity": 0.17, "interpolate": "monotone", "borders": {"opacity": 0.35, "strokeWidth": 0.8}}, "encoding": {"y": {"field": "b", "type": "quantitative", "title": "32 ch"}, "yError": {"field": "f"}}},
                  {"transform": [{"filter": "datum.t == -100"}], "mark": {"type": "rule", "color": "#404040", "strokeWidth": 1.2}, "encoding": {"x": {"datum": -100}, "x2": {"datum": 700}, "y": {"datum": 0}}},
                  {"transform": [{"filter": "datum.t == -100"}], "mark": {"type": "rule", "color": "#404040", "strokeWidth": 1.1, "strokeDash": [2, 2.5]}, "encoding": {"x": {"datum": 0}}},
                  {"mark": {"type": "line", "color": "#ff0000", "strokeWidth": 2, "interpolate": "monotone"}, "encoding": {"y": {"field": "a", "type": "quantitative", "title": "32 ch"}}},
                  {"mark": {"type": "line", "color": "#0000ff", "strokeWidth": 2, "interpolate": "monotone"}, "encoding": {"y": {"field": "b", "type": "quantitative", "title": "32 ch"}}}
                ]
              }
            },
            {
              "data": {"name": "erp"},
              "transform": [{"filter": "datum.r == 'REST64'"}],
              "facet": {"column": {"field": "s", "sort": ["S", "M", "L"], "header": null}},
              "spacing": {"column": 115},
              "bounds": "flush",
              "resolve": {"axis": {"y": "independent"}},
              "spec": {
                "width": 453, "height": 70,
                "encoding": {"x": {"field": "t", "type": "quantitative", "scale": {"domain": [-100, 700], "nice": false, "zero": false}, "axis": {"values": [-100, 300, 700], "title": null}}},
                "layer": [
                  {"mark": {"type": "errorband", "color": "#ff0000", "opacity": 0.17, "interpolate": "monotone", "borders": {"opacity": 0.35, "strokeWidth": 0.8}}, "encoding": {"y": {"field": "a", "type": "quantitative", "title": "64 ch", "scale": {"domain": [-4, 2], "nice": false, "zero": false}, "axis": {"values": [-4, 2]}}, "yError": {"field": "e"}}},
                  {"mark": {"type": "errorband", "color": "#0000ff", "opacity": 0.17, "interpolate": "monotone", "borders": {"opacity": 0.35, "strokeWidth": 0.8}}, "encoding": {"y": {"field": "b", "type": "quantitative", "title": "64 ch"}, "yError": {"field": "f"}}},
                  {"transform": [{"filter": "datum.t == -100"}], "mark": {"type": "rule", "color": "#404040", "strokeWidth": 1.2}, "encoding": {"x": {"datum": -100}, "x2": {"datum": 700}, "y": {"datum": 0}}},
                  {"transform": [{"filter": "datum.t == -100"}], "mark": {"type": "rule", "color": "#404040", "strokeWidth": 1.1, "strokeDash": [2, 2.5]}, "encoding": {"x": {"datum": 0}}},
                  {"mark": {"type": "line", "color": "#ff0000", "strokeWidth": 2, "interpolate": "monotone"}, "encoding": {"y": {"field": "a", "type": "quantitative", "title": "64 ch"}}},
                  {"mark": {"type": "line", "color": "#0000ff", "strokeWidth": 2, "interpolate": "monotone"}, "encoding": {"y": {"field": "b", "type": "quantitative", "title": "64 ch"}}}
                ]
              }
            }
          ]
        }
      ]
    }
  ]
}
